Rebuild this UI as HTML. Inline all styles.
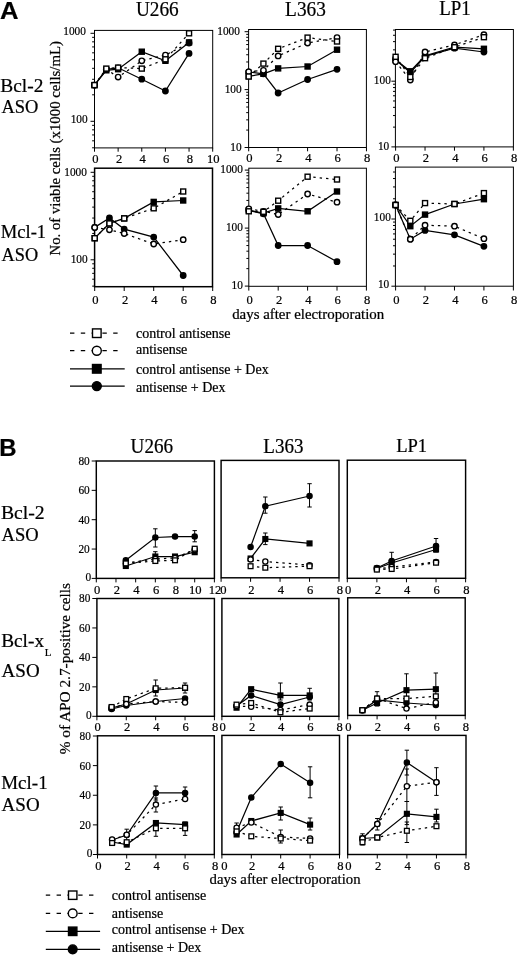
<!DOCTYPE html>
<html><head><meta charset="utf-8"><title>Figure</title>
<style>html,body{margin:0;padding:0;background:#fff;}svg{display:block;filter:grayscale(1);}</style></head>
<body><svg width="520" height="956" viewBox="0 0 520 956" font-family="'Liberation Serif', serif">
<rect x="0" y="0" width="520" height="956" fill="#fff"/>
<rect x="94.5" y="30.4" width="118.2" height="117.5" fill="none" stroke="#000" stroke-width="1"/>
<line x1="94.5" y1="147.9" x2="94.5" y2="151.7" stroke="#000" stroke-width="1"/>
<line x1="118.14" y1="147.9" x2="118.14" y2="151.7" stroke="#000" stroke-width="1"/>
<line x1="141.78" y1="147.9" x2="141.78" y2="151.7" stroke="#000" stroke-width="1"/>
<line x1="165.42" y1="147.9" x2="165.42" y2="151.7" stroke="#000" stroke-width="1"/>
<line x1="189.06" y1="147.9" x2="189.06" y2="151.7" stroke="#000" stroke-width="1"/>
<line x1="212.7" y1="147.9" x2="212.7" y2="151.7" stroke="#000" stroke-width="1"/>
<text x="92.15" y="162.79" font-size="13.4" font-family='"Liberation Serif", serif' textLength="6.3" lengthAdjust="spacingAndGlyphs" stroke="#000" stroke-width="0.22">0</text>
<text x="115.89" y="162.82" font-size="13.4" font-family='"Liberation Serif", serif' textLength="6.3" lengthAdjust="spacingAndGlyphs" stroke="#000" stroke-width="0.22">2</text>
<text x="139.43" y="162.82" font-size="13.4" font-family='"Liberation Serif", serif' textLength="6.3" lengthAdjust="spacingAndGlyphs" stroke="#000" stroke-width="0.22">4</text>
<text x="162.98" y="162.75" font-size="13.4" font-family='"Liberation Serif", serif' textLength="6.3" lengthAdjust="spacingAndGlyphs" stroke="#000" stroke-width="0.22">6</text>
<text x="186.71" y="162.79" font-size="13.4" font-family='"Liberation Serif", serif' textLength="6.3" lengthAdjust="spacingAndGlyphs" stroke="#000" stroke-width="0.22">8</text>
<text x="206.89" y="162.79" font-size="13.4" font-family='"Liberation Serif", serif' textLength="12.6" lengthAdjust="spacingAndGlyphs" stroke="#000" stroke-width="0.22">10</text>
<line x1="92.1" y1="147.79" x2="94.5" y2="147.79" stroke="#000" stroke-width="1"/>
<line x1="92.1" y1="140.82" x2="94.5" y2="140.82" stroke="#000" stroke-width="1"/>
<line x1="92.1" y1="134.93" x2="94.5" y2="134.93" stroke="#000" stroke-width="1"/>
<line x1="92.1" y1="129.83" x2="94.5" y2="129.83" stroke="#000" stroke-width="1"/>
<line x1="92.1" y1="125.33" x2="94.5" y2="125.33" stroke="#000" stroke-width="1"/>
<line x1="90.5" y1="121.3" x2="94.5" y2="121.3" stroke="#000" stroke-width="1"/>
<text x="70.63" y="123.36" font-size="13" font-family='"Liberation Serif", serif' textLength="16.96" lengthAdjust="spacingAndGlyphs" stroke="#000" stroke-width="0.22">100</text>
<line x1="92.1" y1="94.81" x2="94.5" y2="94.81" stroke="#000" stroke-width="1"/>
<line x1="92.1" y1="79.31" x2="94.5" y2="79.31" stroke="#000" stroke-width="1"/>
<line x1="92.1" y1="68.32" x2="94.5" y2="68.32" stroke="#000" stroke-width="1"/>
<line x1="92.1" y1="59.79" x2="94.5" y2="59.79" stroke="#000" stroke-width="1"/>
<line x1="92.1" y1="52.82" x2="94.5" y2="52.82" stroke="#000" stroke-width="1"/>
<line x1="92.1" y1="46.93" x2="94.5" y2="46.93" stroke="#000" stroke-width="1"/>
<line x1="92.1" y1="41.83" x2="94.5" y2="41.83" stroke="#000" stroke-width="1"/>
<line x1="92.1" y1="37.33" x2="94.5" y2="37.33" stroke="#000" stroke-width="1"/>
<line x1="90.5" y1="33.3" x2="94.5" y2="33.3" stroke="#000" stroke-width="1"/>
<text x="63.28" y="35.36" font-size="13" font-family='"Liberation Serif", serif' textLength="22.62" lengthAdjust="spacingAndGlyphs" stroke="#000" stroke-width="0.22">1000</text>
<polyline points="94.5,85.1 106.32,68.6 118.14,67.6 141.78,68.6 165.42,59.3 189.06,33.3" fill="none" stroke="#000" stroke-width="1.25" stroke-dasharray="2.4 4.0"/>
<polyline points="94.5,85.1 106.32,69.3 118.14,77.1 141.78,60.8 165.42,55.1 189.06,43" fill="none" stroke="#000" stroke-width="1.25" stroke-dasharray="2.4 4.0"/>
<polyline points="94.5,85.1 106.32,70.3 118.14,69.2 141.78,51.7 165.42,60.8 189.06,42.4" fill="none" stroke="#000" stroke-width="1.25"/>
<polyline points="94.5,85.1 106.32,69.3 118.14,67.8 141.78,79.2 165.42,91 189.06,53.4" fill="none" stroke="#000" stroke-width="1.25"/>
<circle cx="94.5" cy="85.1" r="2.7" fill="#000" stroke="#000" stroke-width="1.4"/>
<circle cx="106.32" cy="69.3" r="2.7" fill="#000" stroke="#000" stroke-width="1.4"/>
<circle cx="118.14" cy="67.8" r="2.7" fill="#000" stroke="#000" stroke-width="1.4"/>
<circle cx="141.78" cy="79.2" r="2.7" fill="#000" stroke="#000" stroke-width="1.4"/>
<circle cx="165.42" cy="91" r="2.7" fill="#000" stroke="#000" stroke-width="1.4"/>
<circle cx="189.06" cy="53.4" r="2.7" fill="#000" stroke="#000" stroke-width="1.4"/>
<circle cx="94.5" cy="85.1" r="2.7" fill="#fff" stroke="#000" stroke-width="1.4"/>
<circle cx="106.32" cy="69.3" r="2.7" fill="#fff" stroke="#000" stroke-width="1.4"/>
<circle cx="118.14" cy="77.1" r="2.7" fill="#fff" stroke="#000" stroke-width="1.4"/>
<circle cx="141.78" cy="60.8" r="2.7" fill="#fff" stroke="#000" stroke-width="1.4"/>
<circle cx="165.42" cy="55.1" r="2.7" fill="#fff" stroke="#000" stroke-width="1.4"/>
<circle cx="189.06" cy="43" r="2.7" fill="#fff" stroke="#000" stroke-width="1.4"/>
<rect x="92" y="82.6" width="5" height="5" fill="#000" stroke="#000" stroke-width="1.4"/>
<rect x="103.82" y="67.8" width="5" height="5" fill="#000" stroke="#000" stroke-width="1.4"/>
<rect x="115.64" y="66.7" width="5" height="5" fill="#000" stroke="#000" stroke-width="1.4"/>
<rect x="139.28" y="49.2" width="5" height="5" fill="#000" stroke="#000" stroke-width="1.4"/>
<rect x="162.92" y="58.3" width="5" height="5" fill="#000" stroke="#000" stroke-width="1.4"/>
<rect x="186.56" y="39.9" width="5" height="5" fill="#000" stroke="#000" stroke-width="1.4"/>
<rect x="92" y="82.6" width="5" height="5" fill="#fff" stroke="#000" stroke-width="1.4"/>
<rect x="103.82" y="66.1" width="5" height="5" fill="#fff" stroke="#000" stroke-width="1.4"/>
<rect x="115.64" y="65.1" width="5" height="5" fill="#fff" stroke="#000" stroke-width="1.4"/>
<rect x="139.28" y="66.1" width="5" height="5" fill="#fff" stroke="#000" stroke-width="1.4"/>
<rect x="162.92" y="56.8" width="5" height="5" fill="#fff" stroke="#000" stroke-width="1.4"/>
<rect x="186.56" y="30.8" width="5" height="5" fill="#fff" stroke="#000" stroke-width="1.4"/>
<rect x="248.6" y="29.5" width="117.8" height="118" fill="none" stroke="#000" stroke-width="1"/>
<line x1="248.7" y1="147.5" x2="248.7" y2="151.3" stroke="#000" stroke-width="1"/>
<line x1="278.14" y1="147.5" x2="278.14" y2="151.3" stroke="#000" stroke-width="1"/>
<line x1="307.58" y1="147.5" x2="307.58" y2="151.3" stroke="#000" stroke-width="1"/>
<line x1="337.02" y1="147.5" x2="337.02" y2="151.3" stroke="#000" stroke-width="1"/>
<line x1="366.46" y1="147.5" x2="366.46" y2="151.3" stroke="#000" stroke-width="1"/>
<text x="246.35" y="162.19" font-size="13.4" font-family='"Liberation Serif", serif' textLength="6.3" lengthAdjust="spacingAndGlyphs" stroke="#000" stroke-width="0.22">0</text>
<text x="275.89" y="162.22" font-size="13.4" font-family='"Liberation Serif", serif' textLength="6.3" lengthAdjust="spacingAndGlyphs" stroke="#000" stroke-width="0.22">2</text>
<text x="305.23" y="162.22" font-size="13.4" font-family='"Liberation Serif", serif' textLength="6.3" lengthAdjust="spacingAndGlyphs" stroke="#000" stroke-width="0.22">4</text>
<text x="334.58" y="162.16" font-size="13.4" font-family='"Liberation Serif", serif' textLength="6.3" lengthAdjust="spacingAndGlyphs" stroke="#000" stroke-width="0.22">6</text>
<text x="364.11" y="162.19" font-size="13.4" font-family='"Liberation Serif", serif' textLength="6.3" lengthAdjust="spacingAndGlyphs" stroke="#000" stroke-width="0.22">8</text>
<line x1="244.6" y1="147.5" x2="248.6" y2="147.5" stroke="#000" stroke-width="1"/>
<text x="230.29" y="150.86" font-size="13" font-family='"Liberation Serif", serif' textLength="11.31" lengthAdjust="spacingAndGlyphs" stroke="#000" stroke-width="0.22">10</text>
<line x1="246.2" y1="130.07" x2="248.6" y2="130.07" stroke="#000" stroke-width="1"/>
<line x1="246.2" y1="119.87" x2="248.6" y2="119.87" stroke="#000" stroke-width="1"/>
<line x1="246.2" y1="112.64" x2="248.6" y2="112.64" stroke="#000" stroke-width="1"/>
<line x1="246.2" y1="107.03" x2="248.6" y2="107.03" stroke="#000" stroke-width="1"/>
<line x1="246.2" y1="102.45" x2="248.6" y2="102.45" stroke="#000" stroke-width="1"/>
<line x1="246.2" y1="98.57" x2="248.6" y2="98.57" stroke="#000" stroke-width="1"/>
<line x1="246.2" y1="95.21" x2="248.6" y2="95.21" stroke="#000" stroke-width="1"/>
<line x1="246.2" y1="92.25" x2="248.6" y2="92.25" stroke="#000" stroke-width="1"/>
<line x1="244.6" y1="89.6" x2="248.6" y2="89.6" stroke="#000" stroke-width="1"/>
<text x="224.63" y="92.96" font-size="13" font-family='"Liberation Serif", serif' textLength="16.96" lengthAdjust="spacingAndGlyphs" stroke="#000" stroke-width="0.22">100</text>
<line x1="246.2" y1="72.17" x2="248.6" y2="72.17" stroke="#000" stroke-width="1"/>
<line x1="246.2" y1="61.97" x2="248.6" y2="61.97" stroke="#000" stroke-width="1"/>
<line x1="246.2" y1="54.74" x2="248.6" y2="54.74" stroke="#000" stroke-width="1"/>
<line x1="246.2" y1="49.13" x2="248.6" y2="49.13" stroke="#000" stroke-width="1"/>
<line x1="246.2" y1="44.55" x2="248.6" y2="44.55" stroke="#000" stroke-width="1"/>
<line x1="246.2" y1="40.67" x2="248.6" y2="40.67" stroke="#000" stroke-width="1"/>
<line x1="246.2" y1="37.31" x2="248.6" y2="37.31" stroke="#000" stroke-width="1"/>
<line x1="246.2" y1="34.35" x2="248.6" y2="34.35" stroke="#000" stroke-width="1"/>
<line x1="244.6" y1="31.7" x2="248.6" y2="31.7" stroke="#000" stroke-width="1"/>
<text x="217.28" y="35.06" font-size="13" font-family='"Liberation Serif", serif' textLength="22.62" lengthAdjust="spacingAndGlyphs" stroke="#000" stroke-width="0.22">1000</text>
<polyline points="248.7,76.5 263.42,63.6 278.14,48.8 307.58,37.6 337.02,41.5" fill="none" stroke="#000" stroke-width="1.25" stroke-dasharray="2.4 4.0"/>
<polyline points="248.7,71.8 263.42,70.3 278.14,55.9 307.58,43 337.02,37.6" fill="none" stroke="#000" stroke-width="1.25" stroke-dasharray="2.4 4.0"/>
<polyline points="248.7,76.3 263.42,73.8 278.14,68.4 307.58,66.5 337.02,49.7" fill="none" stroke="#000" stroke-width="1.25"/>
<polyline points="248.7,72 263.42,73.8 278.14,93 307.58,79.5 337.02,69.3" fill="none" stroke="#000" stroke-width="1.25"/>
<circle cx="248.7" cy="72" r="2.7" fill="#000" stroke="#000" stroke-width="1.4"/>
<circle cx="263.42" cy="73.8" r="2.7" fill="#000" stroke="#000" stroke-width="1.4"/>
<circle cx="278.14" cy="93" r="2.7" fill="#000" stroke="#000" stroke-width="1.4"/>
<circle cx="307.58" cy="79.5" r="2.7" fill="#000" stroke="#000" stroke-width="1.4"/>
<circle cx="337.02" cy="69.3" r="2.7" fill="#000" stroke="#000" stroke-width="1.4"/>
<rect x="246.2" y="73.8" width="5" height="5" fill="#000" stroke="#000" stroke-width="1.4"/>
<rect x="260.92" y="71.3" width="5" height="5" fill="#000" stroke="#000" stroke-width="1.4"/>
<rect x="275.64" y="65.9" width="5" height="5" fill="#000" stroke="#000" stroke-width="1.4"/>
<rect x="305.08" y="64" width="5" height="5" fill="#000" stroke="#000" stroke-width="1.4"/>
<rect x="334.52" y="47.2" width="5" height="5" fill="#000" stroke="#000" stroke-width="1.4"/>
<circle cx="248.7" cy="71.8" r="2.7" fill="#fff" stroke="#000" stroke-width="1.4"/>
<circle cx="263.42" cy="70.3" r="2.7" fill="#fff" stroke="#000" stroke-width="1.4"/>
<circle cx="278.14" cy="55.9" r="2.7" fill="#fff" stroke="#000" stroke-width="1.4"/>
<circle cx="307.58" cy="43" r="2.7" fill="#fff" stroke="#000" stroke-width="1.4"/>
<circle cx="337.02" cy="37.6" r="2.7" fill="#fff" stroke="#000" stroke-width="1.4"/>
<rect x="246.2" y="74" width="5" height="5" fill="#fff" stroke="#000" stroke-width="1.4"/>
<rect x="260.92" y="61.1" width="5" height="5" fill="#fff" stroke="#000" stroke-width="1.4"/>
<rect x="275.64" y="46.3" width="5" height="5" fill="#fff" stroke="#000" stroke-width="1.4"/>
<rect x="305.08" y="35.1" width="5" height="5" fill="#fff" stroke="#000" stroke-width="1.4"/>
<rect x="334.52" y="39" width="5" height="5" fill="#fff" stroke="#000" stroke-width="1.4"/>
<rect x="395.4" y="29.5" width="118" height="117.4" fill="none" stroke="#000" stroke-width="1"/>
<line x1="395.6" y1="146.9" x2="395.6" y2="150.7" stroke="#000" stroke-width="1"/>
<line x1="425.04" y1="146.9" x2="425.04" y2="150.7" stroke="#000" stroke-width="1"/>
<line x1="454.48" y1="146.9" x2="454.48" y2="150.7" stroke="#000" stroke-width="1"/>
<line x1="483.92" y1="146.9" x2="483.92" y2="150.7" stroke="#000" stroke-width="1"/>
<line x1="513.36" y1="146.9" x2="513.36" y2="150.7" stroke="#000" stroke-width="1"/>
<text x="393.25" y="161.99" font-size="13.4" font-family='"Liberation Serif", serif' textLength="6.3" lengthAdjust="spacingAndGlyphs" stroke="#000" stroke-width="0.22">0</text>
<text x="422.79" y="162.02" font-size="13.4" font-family='"Liberation Serif", serif' textLength="6.3" lengthAdjust="spacingAndGlyphs" stroke="#000" stroke-width="0.22">2</text>
<text x="452.13" y="162.02" font-size="13.4" font-family='"Liberation Serif", serif' textLength="6.3" lengthAdjust="spacingAndGlyphs" stroke="#000" stroke-width="0.22">4</text>
<text x="481.48" y="161.95" font-size="13.4" font-family='"Liberation Serif", serif' textLength="6.3" lengthAdjust="spacingAndGlyphs" stroke="#000" stroke-width="0.22">6</text>
<text x="511.01" y="161.99" font-size="13.4" font-family='"Liberation Serif", serif' textLength="6.3" lengthAdjust="spacingAndGlyphs" stroke="#000" stroke-width="0.22">8</text>
<line x1="391.4" y1="146.9" x2="395.4" y2="146.9" stroke="#000" stroke-width="1"/>
<text x="377.89" y="149.96" font-size="13" font-family='"Liberation Serif", serif' textLength="11.31" lengthAdjust="spacingAndGlyphs" stroke="#000" stroke-width="0.22">10</text>
<line x1="393" y1="127.12" x2="395.4" y2="127.12" stroke="#000" stroke-width="1"/>
<line x1="393" y1="115.55" x2="395.4" y2="115.55" stroke="#000" stroke-width="1"/>
<line x1="393" y1="107.34" x2="395.4" y2="107.34" stroke="#000" stroke-width="1"/>
<line x1="393" y1="100.98" x2="395.4" y2="100.98" stroke="#000" stroke-width="1"/>
<line x1="393" y1="95.78" x2="395.4" y2="95.78" stroke="#000" stroke-width="1"/>
<line x1="393" y1="91.38" x2="395.4" y2="91.38" stroke="#000" stroke-width="1"/>
<line x1="393" y1="87.57" x2="395.4" y2="87.57" stroke="#000" stroke-width="1"/>
<line x1="393" y1="84.21" x2="395.4" y2="84.21" stroke="#000" stroke-width="1"/>
<line x1="391.4" y1="81.2" x2="395.4" y2="81.2" stroke="#000" stroke-width="1"/>
<text x="373.83" y="84.26" font-size="13" font-family='"Liberation Serif", serif' textLength="16.96" lengthAdjust="spacingAndGlyphs" stroke="#000" stroke-width="0.22">100</text>
<line x1="393" y1="61.42" x2="395.4" y2="61.42" stroke="#000" stroke-width="1"/>
<line x1="393" y1="49.85" x2="395.4" y2="49.85" stroke="#000" stroke-width="1"/>
<line x1="393" y1="41.64" x2="395.4" y2="41.64" stroke="#000" stroke-width="1"/>
<line x1="393" y1="35.28" x2="395.4" y2="35.28" stroke="#000" stroke-width="1"/>
<line x1="393" y1="30.08" x2="395.4" y2="30.08" stroke="#000" stroke-width="1"/>
<polyline points="395.6,56.8 410.32,77 425.04,58.2 454.48,47.2 483.92,37.2" fill="none" stroke="#000" stroke-width="1.25" stroke-dasharray="2.4 4.0"/>
<polyline points="395.6,61.7 410.32,80 425.04,52 454.48,44.9 483.92,34.7" fill="none" stroke="#000" stroke-width="1.25" stroke-dasharray="2.4 4.0"/>
<polyline points="395.6,59.7 410.32,71.3 425.04,55.9 454.48,47.2 483.92,48.8" fill="none" stroke="#000" stroke-width="1.25"/>
<polyline points="395.6,59.7 410.32,72.6 425.04,56.5 454.48,48.2 483.92,52" fill="none" stroke="#000" stroke-width="1.25"/>
<circle cx="395.6" cy="59.7" r="2.7" fill="#000" stroke="#000" stroke-width="1.4"/>
<circle cx="410.32" cy="72.6" r="2.7" fill="#000" stroke="#000" stroke-width="1.4"/>
<circle cx="425.04" cy="56.5" r="2.7" fill="#000" stroke="#000" stroke-width="1.4"/>
<circle cx="454.48" cy="48.2" r="2.7" fill="#000" stroke="#000" stroke-width="1.4"/>
<circle cx="483.92" cy="52" r="2.7" fill="#000" stroke="#000" stroke-width="1.4"/>
<rect x="393.1" y="57.2" width="5" height="5" fill="#000" stroke="#000" stroke-width="1.4"/>
<rect x="407.82" y="68.8" width="5" height="5" fill="#000" stroke="#000" stroke-width="1.4"/>
<rect x="422.54" y="53.4" width="5" height="5" fill="#000" stroke="#000" stroke-width="1.4"/>
<rect x="451.98" y="44.7" width="5" height="5" fill="#000" stroke="#000" stroke-width="1.4"/>
<rect x="481.42" y="46.3" width="5" height="5" fill="#000" stroke="#000" stroke-width="1.4"/>
<circle cx="395.6" cy="61.7" r="2.7" fill="#fff" stroke="#000" stroke-width="1.4"/>
<circle cx="410.32" cy="80" r="2.7" fill="#fff" stroke="#000" stroke-width="1.4"/>
<circle cx="425.04" cy="52" r="2.7" fill="#fff" stroke="#000" stroke-width="1.4"/>
<circle cx="454.48" cy="44.9" r="2.7" fill="#fff" stroke="#000" stroke-width="1.4"/>
<circle cx="483.92" cy="34.7" r="2.7" fill="#fff" stroke="#000" stroke-width="1.4"/>
<rect x="393.1" y="54.3" width="5" height="5" fill="#fff" stroke="#000" stroke-width="1.4"/>
<rect x="407.82" y="74.5" width="5" height="5" fill="#fff" stroke="#000" stroke-width="1.4"/>
<rect x="422.54" y="55.7" width="5" height="5" fill="#fff" stroke="#000" stroke-width="1.4"/>
<rect x="451.98" y="44.7" width="5" height="5" fill="#fff" stroke="#000" stroke-width="1.4"/>
<rect x="481.42" y="34.7" width="5" height="5" fill="#fff" stroke="#000" stroke-width="1.4"/>
<rect x="94.6" y="168.2" width="117.9" height="118.5" fill="none" stroke="#000" stroke-width="1.5"/>
<line x1="94.7" y1="286.7" x2="94.7" y2="291" stroke="#000" stroke-width="1"/>
<line x1="124.2" y1="286.7" x2="124.2" y2="291" stroke="#000" stroke-width="1"/>
<line x1="153.7" y1="286.7" x2="153.7" y2="291" stroke="#000" stroke-width="1"/>
<line x1="183.2" y1="286.7" x2="183.2" y2="291" stroke="#000" stroke-width="1"/>
<line x1="212.7" y1="286.7" x2="212.7" y2="291" stroke="#000" stroke-width="1"/>
<text x="92.35" y="303.99" font-size="13.4" font-family='"Liberation Serif", serif' textLength="6.3" lengthAdjust="spacingAndGlyphs" stroke="#000" stroke-width="0.22">0</text>
<text x="121.95" y="304.02" font-size="13.4" font-family='"Liberation Serif", serif' textLength="6.3" lengthAdjust="spacingAndGlyphs" stroke="#000" stroke-width="0.22">2</text>
<text x="151.35" y="304.02" font-size="13.4" font-family='"Liberation Serif", serif' textLength="6.3" lengthAdjust="spacingAndGlyphs" stroke="#000" stroke-width="0.22">4</text>
<text x="180.76" y="303.96" font-size="13.4" font-family='"Liberation Serif", serif' textLength="6.3" lengthAdjust="spacingAndGlyphs" stroke="#000" stroke-width="0.22">6</text>
<text x="210.35" y="303.99" font-size="13.4" font-family='"Liberation Serif", serif' textLength="6.3" lengthAdjust="spacingAndGlyphs" stroke="#000" stroke-width="0.22">8</text>
<line x1="92.2" y1="286.14" x2="94.6" y2="286.14" stroke="#000" stroke-width="1"/>
<line x1="92.2" y1="279.21" x2="94.6" y2="279.21" stroke="#000" stroke-width="1"/>
<line x1="92.2" y1="273.35" x2="94.6" y2="273.35" stroke="#000" stroke-width="1"/>
<line x1="92.2" y1="268.28" x2="94.6" y2="268.28" stroke="#000" stroke-width="1"/>
<line x1="92.2" y1="263.8" x2="94.6" y2="263.8" stroke="#000" stroke-width="1"/>
<line x1="90.6" y1="259.8" x2="94.6" y2="259.8" stroke="#000" stroke-width="1"/>
<text x="70.73" y="263.16" font-size="13" font-family='"Liberation Serif", serif' textLength="16.96" lengthAdjust="spacingAndGlyphs" stroke="#000" stroke-width="0.22">100</text>
<line x1="92.2" y1="233.46" x2="94.6" y2="233.46" stroke="#000" stroke-width="1"/>
<line x1="92.2" y1="218.05" x2="94.6" y2="218.05" stroke="#000" stroke-width="1"/>
<line x1="92.2" y1="207.12" x2="94.6" y2="207.12" stroke="#000" stroke-width="1"/>
<line x1="92.2" y1="198.64" x2="94.6" y2="198.64" stroke="#000" stroke-width="1"/>
<line x1="92.2" y1="191.71" x2="94.6" y2="191.71" stroke="#000" stroke-width="1"/>
<line x1="92.2" y1="185.85" x2="94.6" y2="185.85" stroke="#000" stroke-width="1"/>
<line x1="92.2" y1="180.78" x2="94.6" y2="180.78" stroke="#000" stroke-width="1"/>
<line x1="92.2" y1="176.3" x2="94.6" y2="176.3" stroke="#000" stroke-width="1"/>
<line x1="90.6" y1="172.3" x2="94.6" y2="172.3" stroke="#000" stroke-width="1"/>
<text x="64.28" y="175.66" font-size="13" font-family='"Liberation Serif", serif' textLength="22.62" lengthAdjust="spacingAndGlyphs" stroke="#000" stroke-width="0.22">1000</text>
<polyline points="94.7,238.2 109.45,223.4 124.2,218.4 153.7,208.3 183.2,191.5" fill="none" stroke="#000" stroke-width="1.25" stroke-dasharray="2.4 4.0"/>
<polyline points="94.7,227.4 109.45,229.8 124.2,233.5 153.7,244 183.2,239.7" fill="none" stroke="#000" stroke-width="1.25" stroke-dasharray="2.4 4.0"/>
<polyline points="94.7,238.2 109.45,223.4 124.2,218.4 153.7,201.9 183.2,200.5" fill="none" stroke="#000" stroke-width="1.25"/>
<polyline points="94.7,227.4 109.45,218 124.2,229.1 153.7,237.1 183.2,275.5" fill="none" stroke="#000" stroke-width="1.25"/>
<rect x="92.2" y="235.7" width="5" height="5" fill="#000" stroke="#000" stroke-width="1.4"/>
<rect x="106.95" y="220.9" width="5" height="5" fill="#000" stroke="#000" stroke-width="1.4"/>
<rect x="121.7" y="215.9" width="5" height="5" fill="#000" stroke="#000" stroke-width="1.4"/>
<rect x="151.2" y="199.4" width="5" height="5" fill="#000" stroke="#000" stroke-width="1.4"/>
<rect x="180.7" y="198" width="5" height="5" fill="#000" stroke="#000" stroke-width="1.4"/>
<circle cx="94.7" cy="227.4" r="2.7" fill="#000" stroke="#000" stroke-width="1.4"/>
<circle cx="109.45" cy="218" r="2.7" fill="#000" stroke="#000" stroke-width="1.4"/>
<circle cx="124.2" cy="229.1" r="2.7" fill="#000" stroke="#000" stroke-width="1.4"/>
<circle cx="153.7" cy="237.1" r="2.7" fill="#000" stroke="#000" stroke-width="1.4"/>
<circle cx="183.2" cy="275.5" r="2.7" fill="#000" stroke="#000" stroke-width="1.4"/>
<circle cx="94.7" cy="227.4" r="2.7" fill="#fff" stroke="#000" stroke-width="1.4"/>
<circle cx="109.45" cy="229.8" r="2.7" fill="#fff" stroke="#000" stroke-width="1.4"/>
<circle cx="124.2" cy="233.5" r="2.7" fill="#fff" stroke="#000" stroke-width="1.4"/>
<circle cx="153.7" cy="244" r="2.7" fill="#fff" stroke="#000" stroke-width="1.4"/>
<circle cx="183.2" cy="239.7" r="2.7" fill="#fff" stroke="#000" stroke-width="1.4"/>
<rect x="92.2" y="235.7" width="5" height="5" fill="#fff" stroke="#000" stroke-width="1.4"/>
<rect x="106.95" y="220.9" width="5" height="5" fill="#fff" stroke="#000" stroke-width="1.4"/>
<rect x="121.7" y="215.9" width="5" height="5" fill="#fff" stroke="#000" stroke-width="1.4"/>
<rect x="151.2" y="205.8" width="5" height="5" fill="#fff" stroke="#000" stroke-width="1.4"/>
<rect x="180.7" y="189" width="5" height="5" fill="#fff" stroke="#000" stroke-width="1.4"/>
<rect x="248.8" y="168.2" width="117.6" height="118.1" fill="none" stroke="#000" stroke-width="1"/>
<line x1="248.8" y1="286.3" x2="248.8" y2="290.6" stroke="#000" stroke-width="1"/>
<line x1="278.2" y1="286.3" x2="278.2" y2="290.6" stroke="#000" stroke-width="1"/>
<line x1="307.6" y1="286.3" x2="307.6" y2="290.6" stroke="#000" stroke-width="1"/>
<line x1="337" y1="286.3" x2="337" y2="290.6" stroke="#000" stroke-width="1"/>
<line x1="366.4" y1="286.3" x2="366.4" y2="290.6" stroke="#000" stroke-width="1"/>
<text x="246.45" y="303.99" font-size="13.4" font-family='"Liberation Serif", serif' textLength="6.3" lengthAdjust="spacingAndGlyphs" stroke="#000" stroke-width="0.22">0</text>
<text x="275.95" y="304.02" font-size="13.4" font-family='"Liberation Serif", serif' textLength="6.3" lengthAdjust="spacingAndGlyphs" stroke="#000" stroke-width="0.22">2</text>
<text x="305.25" y="304.02" font-size="13.4" font-family='"Liberation Serif", serif' textLength="6.3" lengthAdjust="spacingAndGlyphs" stroke="#000" stroke-width="0.22">4</text>
<text x="334.56" y="303.96" font-size="13.4" font-family='"Liberation Serif", serif' textLength="6.3" lengthAdjust="spacingAndGlyphs" stroke="#000" stroke-width="0.22">6</text>
<text x="364.05" y="303.99" font-size="13.4" font-family='"Liberation Serif", serif' textLength="6.3" lengthAdjust="spacingAndGlyphs" stroke="#000" stroke-width="0.22">8</text>
<line x1="244.8" y1="286.1" x2="248.8" y2="286.1" stroke="#000" stroke-width="1"/>
<text x="231.59" y="289.16" font-size="13" font-family='"Liberation Serif", serif' textLength="11.31" lengthAdjust="spacingAndGlyphs" stroke="#000" stroke-width="0.22">10</text>
<line x1="246.4" y1="268.64" x2="248.8" y2="268.64" stroke="#000" stroke-width="1"/>
<line x1="246.4" y1="258.43" x2="248.8" y2="258.43" stroke="#000" stroke-width="1"/>
<line x1="246.4" y1="251.18" x2="248.8" y2="251.18" stroke="#000" stroke-width="1"/>
<line x1="246.4" y1="245.56" x2="248.8" y2="245.56" stroke="#000" stroke-width="1"/>
<line x1="246.4" y1="240.97" x2="248.8" y2="240.97" stroke="#000" stroke-width="1"/>
<line x1="246.4" y1="237.08" x2="248.8" y2="237.08" stroke="#000" stroke-width="1"/>
<line x1="246.4" y1="233.72" x2="248.8" y2="233.72" stroke="#000" stroke-width="1"/>
<line x1="246.4" y1="230.75" x2="248.8" y2="230.75" stroke="#000" stroke-width="1"/>
<line x1="244.8" y1="228.1" x2="248.8" y2="228.1" stroke="#000" stroke-width="1"/>
<text x="225.93" y="231.16" font-size="13" font-family='"Liberation Serif", serif' textLength="16.96" lengthAdjust="spacingAndGlyphs" stroke="#000" stroke-width="0.22">100</text>
<line x1="246.4" y1="210.64" x2="248.8" y2="210.64" stroke="#000" stroke-width="1"/>
<line x1="246.4" y1="200.43" x2="248.8" y2="200.43" stroke="#000" stroke-width="1"/>
<line x1="246.4" y1="193.18" x2="248.8" y2="193.18" stroke="#000" stroke-width="1"/>
<line x1="246.4" y1="187.56" x2="248.8" y2="187.56" stroke="#000" stroke-width="1"/>
<line x1="246.4" y1="182.97" x2="248.8" y2="182.97" stroke="#000" stroke-width="1"/>
<line x1="246.4" y1="179.08" x2="248.8" y2="179.08" stroke="#000" stroke-width="1"/>
<line x1="246.4" y1="175.72" x2="248.8" y2="175.72" stroke="#000" stroke-width="1"/>
<line x1="246.4" y1="172.75" x2="248.8" y2="172.75" stroke="#000" stroke-width="1"/>
<line x1="244.8" y1="170.1" x2="248.8" y2="170.1" stroke="#000" stroke-width="1"/>
<text x="220.28" y="173.16" font-size="13" font-family='"Liberation Serif", serif' textLength="22.62" lengthAdjust="spacingAndGlyphs" stroke="#000" stroke-width="0.22">1000</text>
<polyline points="248.8,211.3 263.5,211.8 278.2,200.7 307.6,176.7 337,179.5" fill="none" stroke="#000" stroke-width="1.25" stroke-dasharray="2.4 4.0"/>
<polyline points="248.8,208.8 263.5,211.3 278.2,214.5 307.6,194 337,202.2" fill="none" stroke="#000" stroke-width="1.25" stroke-dasharray="2.4 4.0"/>
<polyline points="248.8,210.3 263.5,213.2 278.2,208.4 307.6,211.3 337,191.5" fill="none" stroke="#000" stroke-width="1.25"/>
<polyline points="248.8,210.3 263.5,213.8 278.2,245.5 307.6,245.5 337,261.7" fill="none" stroke="#000" stroke-width="1.25"/>
<circle cx="248.8" cy="210.3" r="2.7" fill="#000" stroke="#000" stroke-width="1.4"/>
<circle cx="263.5" cy="213.8" r="2.7" fill="#000" stroke="#000" stroke-width="1.4"/>
<circle cx="278.2" cy="245.5" r="2.7" fill="#000" stroke="#000" stroke-width="1.4"/>
<circle cx="307.6" cy="245.5" r="2.7" fill="#000" stroke="#000" stroke-width="1.4"/>
<circle cx="337" cy="261.7" r="2.7" fill="#000" stroke="#000" stroke-width="1.4"/>
<rect x="246.3" y="207.8" width="5" height="5" fill="#000" stroke="#000" stroke-width="1.4"/>
<rect x="261" y="210.7" width="5" height="5" fill="#000" stroke="#000" stroke-width="1.4"/>
<rect x="275.7" y="205.9" width="5" height="5" fill="#000" stroke="#000" stroke-width="1.4"/>
<rect x="305.1" y="208.8" width="5" height="5" fill="#000" stroke="#000" stroke-width="1.4"/>
<rect x="334.5" y="189" width="5" height="5" fill="#000" stroke="#000" stroke-width="1.4"/>
<circle cx="248.8" cy="208.8" r="2.7" fill="#fff" stroke="#000" stroke-width="1.4"/>
<circle cx="263.5" cy="211.3" r="2.7" fill="#fff" stroke="#000" stroke-width="1.4"/>
<circle cx="278.2" cy="214.5" r="2.7" fill="#fff" stroke="#000" stroke-width="1.4"/>
<circle cx="307.6" cy="194" r="2.7" fill="#fff" stroke="#000" stroke-width="1.4"/>
<circle cx="337" cy="202.2" r="2.7" fill="#fff" stroke="#000" stroke-width="1.4"/>
<rect x="246.3" y="208.8" width="5" height="5" fill="#fff" stroke="#000" stroke-width="1.4"/>
<rect x="261" y="209.3" width="5" height="5" fill="#fff" stroke="#000" stroke-width="1.4"/>
<rect x="275.7" y="198.2" width="5" height="5" fill="#fff" stroke="#000" stroke-width="1.4"/>
<rect x="305.1" y="174.2" width="5" height="5" fill="#fff" stroke="#000" stroke-width="1.4"/>
<rect x="334.5" y="177" width="5" height="5" fill="#fff" stroke="#000" stroke-width="1.4"/>
<rect x="395.4" y="167.1" width="118" height="119.1" fill="none" stroke="#000" stroke-width="1"/>
<line x1="395.6" y1="286.2" x2="395.6" y2="290.5" stroke="#000" stroke-width="1"/>
<line x1="425.04" y1="286.2" x2="425.04" y2="290.5" stroke="#000" stroke-width="1"/>
<line x1="454.48" y1="286.2" x2="454.48" y2="290.5" stroke="#000" stroke-width="1"/>
<line x1="483.92" y1="286.2" x2="483.92" y2="290.5" stroke="#000" stroke-width="1"/>
<line x1="513.36" y1="286.2" x2="513.36" y2="290.5" stroke="#000" stroke-width="1"/>
<text x="393.25" y="303.99" font-size="13.4" font-family='"Liberation Serif", serif' textLength="6.3" lengthAdjust="spacingAndGlyphs" stroke="#000" stroke-width="0.22">0</text>
<text x="422.79" y="304.02" font-size="13.4" font-family='"Liberation Serif", serif' textLength="6.3" lengthAdjust="spacingAndGlyphs" stroke="#000" stroke-width="0.22">2</text>
<text x="452.13" y="304.02" font-size="13.4" font-family='"Liberation Serif", serif' textLength="6.3" lengthAdjust="spacingAndGlyphs" stroke="#000" stroke-width="0.22">4</text>
<text x="481.48" y="303.96" font-size="13.4" font-family='"Liberation Serif", serif' textLength="6.3" lengthAdjust="spacingAndGlyphs" stroke="#000" stroke-width="0.22">6</text>
<text x="511.01" y="303.99" font-size="13.4" font-family='"Liberation Serif", serif' textLength="6.3" lengthAdjust="spacingAndGlyphs" stroke="#000" stroke-width="0.22">8</text>
<line x1="391.4" y1="286.2" x2="395.4" y2="286.2" stroke="#000" stroke-width="1"/>
<text x="377.89" y="288.46" font-size="13" font-family='"Liberation Serif", serif' textLength="11.31" lengthAdjust="spacingAndGlyphs" stroke="#000" stroke-width="0.22">10</text>
<line x1="393" y1="265.97" x2="395.4" y2="265.97" stroke="#000" stroke-width="1"/>
<line x1="393" y1="254.14" x2="395.4" y2="254.14" stroke="#000" stroke-width="1"/>
<line x1="393" y1="245.74" x2="395.4" y2="245.74" stroke="#000" stroke-width="1"/>
<line x1="393" y1="239.23" x2="395.4" y2="239.23" stroke="#000" stroke-width="1"/>
<line x1="393" y1="233.91" x2="395.4" y2="233.91" stroke="#000" stroke-width="1"/>
<line x1="393" y1="229.41" x2="395.4" y2="229.41" stroke="#000" stroke-width="1"/>
<line x1="393" y1="225.51" x2="395.4" y2="225.51" stroke="#000" stroke-width="1"/>
<line x1="393" y1="222.07" x2="395.4" y2="222.07" stroke="#000" stroke-width="1"/>
<line x1="391.4" y1="219" x2="395.4" y2="219" stroke="#000" stroke-width="1"/>
<text x="373.83" y="221.26" font-size="13" font-family='"Liberation Serif", serif' textLength="16.96" lengthAdjust="spacingAndGlyphs" stroke="#000" stroke-width="0.22">100</text>
<line x1="393" y1="198.77" x2="395.4" y2="198.77" stroke="#000" stroke-width="1"/>
<line x1="393" y1="186.94" x2="395.4" y2="186.94" stroke="#000" stroke-width="1"/>
<line x1="393" y1="178.54" x2="395.4" y2="178.54" stroke="#000" stroke-width="1"/>
<line x1="393" y1="172.03" x2="395.4" y2="172.03" stroke="#000" stroke-width="1"/>
<polyline points="395.6,205 410.32,220.8 425.04,203.1 454.48,204 483.92,193.1" fill="none" stroke="#000" stroke-width="1.25" stroke-dasharray="2.4 4.0"/>
<polyline points="395.6,205 410.32,239.2 425.04,225.2 454.48,226.2 483.92,238.7" fill="none" stroke="#000" stroke-width="1.25" stroke-dasharray="2.4 4.0"/>
<polyline points="395.6,205 410.32,226.2 425.04,214.6 454.48,204 483.92,199.2" fill="none" stroke="#000" stroke-width="1.25"/>
<polyline points="395.6,205 410.32,239.2 425.04,230.4 454.48,234.8 483.92,246.3" fill="none" stroke="#000" stroke-width="1.25"/>
<circle cx="395.6" cy="205" r="2.7" fill="#000" stroke="#000" stroke-width="1.4"/>
<circle cx="410.32" cy="239.2" r="2.7" fill="#000" stroke="#000" stroke-width="1.4"/>
<circle cx="425.04" cy="230.4" r="2.7" fill="#000" stroke="#000" stroke-width="1.4"/>
<circle cx="454.48" cy="234.8" r="2.7" fill="#000" stroke="#000" stroke-width="1.4"/>
<circle cx="483.92" cy="246.3" r="2.7" fill="#000" stroke="#000" stroke-width="1.4"/>
<rect x="393.1" y="202.5" width="5" height="5" fill="#000" stroke="#000" stroke-width="1.4"/>
<rect x="407.82" y="223.7" width="5" height="5" fill="#000" stroke="#000" stroke-width="1.4"/>
<rect x="422.54" y="212.1" width="5" height="5" fill="#000" stroke="#000" stroke-width="1.4"/>
<rect x="451.98" y="201.5" width="5" height="5" fill="#000" stroke="#000" stroke-width="1.4"/>
<rect x="481.42" y="196.7" width="5" height="5" fill="#000" stroke="#000" stroke-width="1.4"/>
<circle cx="395.6" cy="205" r="2.7" fill="#fff" stroke="#000" stroke-width="1.4"/>
<circle cx="410.32" cy="239.2" r="2.7" fill="#fff" stroke="#000" stroke-width="1.4"/>
<circle cx="425.04" cy="225.2" r="2.7" fill="#fff" stroke="#000" stroke-width="1.4"/>
<circle cx="454.48" cy="226.2" r="2.7" fill="#fff" stroke="#000" stroke-width="1.4"/>
<circle cx="483.92" cy="238.7" r="2.7" fill="#fff" stroke="#000" stroke-width="1.4"/>
<rect x="393.1" y="202.5" width="5" height="5" fill="#fff" stroke="#000" stroke-width="1.4"/>
<rect x="407.82" y="218.3" width="5" height="5" fill="#fff" stroke="#000" stroke-width="1.4"/>
<rect x="422.54" y="200.6" width="5" height="5" fill="#fff" stroke="#000" stroke-width="1.4"/>
<rect x="451.98" y="201.5" width="5" height="5" fill="#fff" stroke="#000" stroke-width="1.4"/>
<rect x="481.42" y="190.6" width="5" height="5" fill="#fff" stroke="#000" stroke-width="1.4"/>
<rect x="96.3" y="461" width="118.1" height="117.4" fill="none" stroke="#000" stroke-width="1.45"/>
<line x1="96.3" y1="578.4" x2="96.3" y2="582.4" stroke="#000" stroke-width="1"/>
<line x1="115.98" y1="578.4" x2="115.98" y2="582.4" stroke="#000" stroke-width="1"/>
<line x1="135.66" y1="578.4" x2="135.66" y2="582.4" stroke="#000" stroke-width="1"/>
<line x1="155.34" y1="578.4" x2="155.34" y2="582.4" stroke="#000" stroke-width="1"/>
<line x1="175.02" y1="578.4" x2="175.02" y2="582.4" stroke="#000" stroke-width="1"/>
<line x1="194.7" y1="578.4" x2="194.7" y2="582.4" stroke="#000" stroke-width="1"/>
<line x1="214.38" y1="578.4" x2="214.38" y2="582.4" stroke="#000" stroke-width="1"/>
<text x="93.95" y="594.19" font-size="13.4" font-family='"Liberation Serif", serif' textLength="6.3" lengthAdjust="spacingAndGlyphs" stroke="#000" stroke-width="0.22">0</text>
<text x="113.73" y="594.22" font-size="13.4" font-family='"Liberation Serif", serif' textLength="6.3" lengthAdjust="spacingAndGlyphs" stroke="#000" stroke-width="0.22">2</text>
<text x="133.31" y="594.22" font-size="13.4" font-family='"Liberation Serif", serif' textLength="6.3" lengthAdjust="spacingAndGlyphs" stroke="#000" stroke-width="0.22">4</text>
<text x="152.9" y="594.15" font-size="13.4" font-family='"Liberation Serif", serif' textLength="6.3" lengthAdjust="spacingAndGlyphs" stroke="#000" stroke-width="0.22">6</text>
<text x="172.67" y="594.19" font-size="13.4" font-family='"Liberation Serif", serif' textLength="6.3" lengthAdjust="spacingAndGlyphs" stroke="#000" stroke-width="0.22">8</text>
<text x="188.89" y="594.19" font-size="13.4" font-family='"Liberation Serif", serif' textLength="12.6" lengthAdjust="spacingAndGlyphs" stroke="#000" stroke-width="0.22">10</text>
<text x="208.69" y="594.22" font-size="13.4" font-family='"Liberation Serif", serif' textLength="12.6" lengthAdjust="spacingAndGlyphs" stroke="#000" stroke-width="0.22">12</text>
<line x1="91.7" y1="578.4" x2="96.3" y2="578.4" stroke="#000" stroke-width="1"/>
<text x="85.44" y="581.06" font-size="13" font-family='"Liberation Serif", serif' textLength="5.66" lengthAdjust="spacingAndGlyphs" stroke="#000" stroke-width="0.22">0</text>
<line x1="91.7" y1="549.05" x2="96.3" y2="549.05" stroke="#000" stroke-width="1"/>
<text x="78.39" y="553.01" font-size="13" font-family='"Liberation Serif", serif' textLength="11.31" lengthAdjust="spacingAndGlyphs" stroke="#000" stroke-width="0.22">20</text>
<line x1="91.7" y1="519.7" x2="96.3" y2="519.7" stroke="#000" stroke-width="1"/>
<text x="78.39" y="523.66" font-size="13" font-family='"Liberation Serif", serif' textLength="11.31" lengthAdjust="spacingAndGlyphs" stroke="#000" stroke-width="0.22">40</text>
<line x1="91.7" y1="490.35" x2="96.3" y2="490.35" stroke="#000" stroke-width="1"/>
<text x="78.39" y="494.31" font-size="13" font-family='"Liberation Serif", serif' textLength="11.31" lengthAdjust="spacingAndGlyphs" stroke="#000" stroke-width="0.22">60</text>
<line x1="91.7" y1="461" x2="96.3" y2="461" stroke="#000" stroke-width="1"/>
<text x="78.39" y="464.96" font-size="13" font-family='"Liberation Serif", serif' textLength="11.31" lengthAdjust="spacingAndGlyphs" stroke="#000" stroke-width="0.22">80</text>
<polyline points="125.82,563.4 155.34,561 175.02,560.3 194.7,548.7" fill="none" stroke="#000" stroke-width="1.25" stroke-dasharray="2.4 4.0"/>
<polyline points="125.82,563 155.34,559 175.02,558 194.7,549.5" fill="none" stroke="#000" stroke-width="1.25" stroke-dasharray="2.4 4.0"/>
<polyline points="125.82,566 155.34,556.5 175.02,556.5 194.7,552.2" fill="none" stroke="#000" stroke-width="1.25"/>
<polyline points="125.82,560.3 155.34,537.5 175.02,536.6 194.7,536.6" fill="none" stroke="#000" stroke-width="1.25"/>
<line x1="155.34" y1="528.8" x2="155.34" y2="547" stroke="#000" stroke-width="1"/>
<line x1="153.14" y1="528.8" x2="157.54" y2="528.8" stroke="#000" stroke-width="1"/>
<line x1="153.14" y1="547" x2="157.54" y2="547" stroke="#000" stroke-width="1"/>
<line x1="194.7" y1="530.6" x2="194.7" y2="541.8" stroke="#000" stroke-width="1"/>
<line x1="192.5" y1="530.6" x2="196.9" y2="530.6" stroke="#000" stroke-width="1"/>
<line x1="192.5" y1="541.8" x2="196.9" y2="541.8" stroke="#000" stroke-width="1"/>
<line x1="155.34" y1="551.7" x2="155.34" y2="560" stroke="#000" stroke-width="1"/>
<line x1="153.14" y1="551.7" x2="157.54" y2="551.7" stroke="#000" stroke-width="1"/>
<line x1="153.14" y1="560" x2="157.54" y2="560" stroke="#000" stroke-width="1"/>
<circle cx="125.82" cy="560.3" r="2.6" fill="#000" stroke="#000" stroke-width="1.3"/>
<circle cx="155.34" cy="537.5" r="2.6" fill="#000" stroke="#000" stroke-width="1.3"/>
<circle cx="175.02" cy="536.6" r="2.6" fill="#000" stroke="#000" stroke-width="1.3"/>
<circle cx="194.7" cy="536.6" r="2.6" fill="#000" stroke="#000" stroke-width="1.3"/>
<rect x="123.42" y="563.6" width="4.8" height="4.8" fill="#000" stroke="#000" stroke-width="1.3"/>
<rect x="152.94" y="554.1" width="4.8" height="4.8" fill="#000" stroke="#000" stroke-width="1.3"/>
<rect x="172.62" y="554.1" width="4.8" height="4.8" fill="#000" stroke="#000" stroke-width="1.3"/>
<rect x="192.3" y="549.8" width="4.8" height="4.8" fill="#000" stroke="#000" stroke-width="1.3"/>
<circle cx="125.82" cy="563" r="2.6" fill="#fff" stroke="#000" stroke-width="1.3"/>
<circle cx="155.34" cy="559" r="2.6" fill="#fff" stroke="#000" stroke-width="1.3"/>
<circle cx="175.02" cy="558" r="2.6" fill="#fff" stroke="#000" stroke-width="1.3"/>
<circle cx="194.7" cy="549.5" r="2.6" fill="#fff" stroke="#000" stroke-width="1.3"/>
<rect x="123.42" y="561" width="4.8" height="4.8" fill="#fff" stroke="#000" stroke-width="1.3"/>
<rect x="152.94" y="558.6" width="4.8" height="4.8" fill="#fff" stroke="#000" stroke-width="1.3"/>
<rect x="172.62" y="557.9" width="4.8" height="4.8" fill="#fff" stroke="#000" stroke-width="1.3"/>
<rect x="192.3" y="546.3" width="4.8" height="4.8" fill="#fff" stroke="#000" stroke-width="1.3"/>
<rect x="221.1" y="460.4" width="117.9" height="117.4" fill="none" stroke="#000" stroke-width="1.45"/>
<line x1="221.1" y1="577.8" x2="221.1" y2="581.8" stroke="#000" stroke-width="1"/>
<line x1="250.58" y1="577.8" x2="250.58" y2="581.8" stroke="#000" stroke-width="1"/>
<line x1="280.06" y1="577.8" x2="280.06" y2="581.8" stroke="#000" stroke-width="1"/>
<line x1="309.54" y1="577.8" x2="309.54" y2="581.8" stroke="#000" stroke-width="1"/>
<line x1="339.02" y1="577.8" x2="339.02" y2="581.8" stroke="#000" stroke-width="1"/>
<text x="220.35" y="594.19" font-size="13.4" font-family='"Liberation Serif", serif' textLength="6.3" lengthAdjust="spacingAndGlyphs" stroke="#000" stroke-width="0.22">0</text>
<text x="248.33" y="594.22" font-size="13.4" font-family='"Liberation Serif", serif' textLength="6.3" lengthAdjust="spacingAndGlyphs" stroke="#000" stroke-width="0.22">2</text>
<text x="277.71" y="594.22" font-size="13.4" font-family='"Liberation Serif", serif' textLength="6.3" lengthAdjust="spacingAndGlyphs" stroke="#000" stroke-width="0.22">4</text>
<text x="307.1" y="594.15" font-size="13.4" font-family='"Liberation Serif", serif' textLength="6.3" lengthAdjust="spacingAndGlyphs" stroke="#000" stroke-width="0.22">6</text>
<text x="336.67" y="594.19" font-size="13.4" font-family='"Liberation Serif", serif' textLength="6.3" lengthAdjust="spacingAndGlyphs" stroke="#000" stroke-width="0.22">8</text>
<polyline points="250.58,566.2 265.32,567.7 309.54,566.2" fill="none" stroke="#000" stroke-width="1.25" stroke-dasharray="2.4 4.0"/>
<polyline points="250.58,559.4 265.32,561.5 309.54,565.2" fill="none" stroke="#000" stroke-width="1.25" stroke-dasharray="2.4 4.0"/>
<polyline points="250.58,558.5 265.32,539 309.54,543.4" fill="none" stroke="#000" stroke-width="1.25"/>
<polyline points="250.58,547 265.32,506.2 309.54,496" fill="none" stroke="#000" stroke-width="1.25"/>
<line x1="265.32" y1="497" x2="265.32" y2="513.2" stroke="#000" stroke-width="1"/>
<line x1="263.12" y1="497" x2="267.52" y2="497" stroke="#000" stroke-width="1"/>
<line x1="263.12" y1="513.2" x2="267.52" y2="513.2" stroke="#000" stroke-width="1"/>
<line x1="309.54" y1="483.7" x2="309.54" y2="507" stroke="#000" stroke-width="1"/>
<line x1="307.34" y1="483.7" x2="311.74" y2="483.7" stroke="#000" stroke-width="1"/>
<line x1="307.34" y1="507" x2="311.74" y2="507" stroke="#000" stroke-width="1"/>
<line x1="265.32" y1="533" x2="265.32" y2="544.6" stroke="#000" stroke-width="1"/>
<line x1="263.12" y1="533" x2="267.52" y2="533" stroke="#000" stroke-width="1"/>
<line x1="263.12" y1="544.6" x2="267.52" y2="544.6" stroke="#000" stroke-width="1"/>
<circle cx="250.58" cy="547" r="2.6" fill="#000" stroke="#000" stroke-width="1.3"/>
<circle cx="265.32" cy="506.2" r="2.6" fill="#000" stroke="#000" stroke-width="1.3"/>
<circle cx="309.54" cy="496" r="2.6" fill="#000" stroke="#000" stroke-width="1.3"/>
<rect x="248.18" y="556.1" width="4.8" height="4.8" fill="#000" stroke="#000" stroke-width="1.3"/>
<rect x="262.92" y="536.6" width="4.8" height="4.8" fill="#000" stroke="#000" stroke-width="1.3"/>
<rect x="307.14" y="541" width="4.8" height="4.8" fill="#000" stroke="#000" stroke-width="1.3"/>
<circle cx="250.58" cy="559.4" r="2.6" fill="#fff" stroke="#000" stroke-width="1.3"/>
<circle cx="265.32" cy="561.5" r="2.6" fill="#fff" stroke="#000" stroke-width="1.3"/>
<circle cx="309.54" cy="565.2" r="2.6" fill="#fff" stroke="#000" stroke-width="1.3"/>
<rect x="248.18" y="563.8" width="4.8" height="4.8" fill="#fff" stroke="#000" stroke-width="1.3"/>
<rect x="262.92" y="565.3" width="4.8" height="4.8" fill="#fff" stroke="#000" stroke-width="1.3"/>
<rect x="307.14" y="563.8" width="4.8" height="4.8" fill="#fff" stroke="#000" stroke-width="1.3"/>
<rect x="347.3" y="460.2" width="118.3" height="118.1" fill="none" stroke="#000" stroke-width="1.45"/>
<line x1="347.3" y1="578.3" x2="347.3" y2="582.3" stroke="#000" stroke-width="1"/>
<line x1="376.88" y1="578.3" x2="376.88" y2="582.3" stroke="#000" stroke-width="1"/>
<line x1="406.46" y1="578.3" x2="406.46" y2="582.3" stroke="#000" stroke-width="1"/>
<line x1="436.04" y1="578.3" x2="436.04" y2="582.3" stroke="#000" stroke-width="1"/>
<line x1="465.62" y1="578.3" x2="465.62" y2="582.3" stroke="#000" stroke-width="1"/>
<text x="344.95" y="594.19" font-size="13.4" font-family='"Liberation Serif", serif' textLength="6.3" lengthAdjust="spacingAndGlyphs" stroke="#000" stroke-width="0.22">0</text>
<text x="374.63" y="594.22" font-size="13.4" font-family='"Liberation Serif", serif' textLength="6.3" lengthAdjust="spacingAndGlyphs" stroke="#000" stroke-width="0.22">2</text>
<text x="404.11" y="594.22" font-size="13.4" font-family='"Liberation Serif", serif' textLength="6.3" lengthAdjust="spacingAndGlyphs" stroke="#000" stroke-width="0.22">4</text>
<text x="433.6" y="594.15" font-size="13.4" font-family='"Liberation Serif", serif' textLength="6.3" lengthAdjust="spacingAndGlyphs" stroke="#000" stroke-width="0.22">6</text>
<text x="463.27" y="594.19" font-size="13.4" font-family='"Liberation Serif", serif' textLength="6.3" lengthAdjust="spacingAndGlyphs" stroke="#000" stroke-width="0.22">8</text>
<polyline points="376.88,569.6 391.67,569 436.04,562.7" fill="none" stroke="#000" stroke-width="1.25" stroke-dasharray="2.4 4.0"/>
<polyline points="376.88,569 391.67,567 436.04,562" fill="none" stroke="#000" stroke-width="1.25" stroke-dasharray="2.4 4.0"/>
<polyline points="376.88,568.5 391.67,563 436.04,549.5" fill="none" stroke="#000" stroke-width="1.25"/>
<polyline points="376.88,568 391.67,561 436.04,546" fill="none" stroke="#000" stroke-width="1.25"/>
<line x1="391.67" y1="552.3" x2="391.67" y2="566" stroke="#000" stroke-width="1"/>
<line x1="389.47" y1="552.3" x2="393.87" y2="552.3" stroke="#000" stroke-width="1"/>
<line x1="389.47" y1="566" x2="393.87" y2="566" stroke="#000" stroke-width="1"/>
<line x1="436.04" y1="538.5" x2="436.04" y2="552" stroke="#000" stroke-width="1"/>
<line x1="433.84" y1="538.5" x2="438.24" y2="538.5" stroke="#000" stroke-width="1"/>
<line x1="433.84" y1="552" x2="438.24" y2="552" stroke="#000" stroke-width="1"/>
<circle cx="376.88" cy="568" r="2.6" fill="#000" stroke="#000" stroke-width="1.3"/>
<circle cx="391.67" cy="561" r="2.6" fill="#000" stroke="#000" stroke-width="1.3"/>
<circle cx="436.04" cy="546" r="2.6" fill="#000" stroke="#000" stroke-width="1.3"/>
<rect x="374.48" y="566.1" width="4.8" height="4.8" fill="#000" stroke="#000" stroke-width="1.3"/>
<rect x="389.27" y="560.6" width="4.8" height="4.8" fill="#000" stroke="#000" stroke-width="1.3"/>
<rect x="433.64" y="547.1" width="4.8" height="4.8" fill="#000" stroke="#000" stroke-width="1.3"/>
<circle cx="376.88" cy="569" r="2.6" fill="#fff" stroke="#000" stroke-width="1.3"/>
<circle cx="391.67" cy="567" r="2.6" fill="#fff" stroke="#000" stroke-width="1.3"/>
<circle cx="436.04" cy="562" r="2.6" fill="#fff" stroke="#000" stroke-width="1.3"/>
<rect x="374.48" y="567.2" width="4.8" height="4.8" fill="#fff" stroke="#000" stroke-width="1.3"/>
<rect x="389.27" y="566.6" width="4.8" height="4.8" fill="#fff" stroke="#000" stroke-width="1.3"/>
<rect x="433.64" y="560.3" width="4.8" height="4.8" fill="#fff" stroke="#000" stroke-width="1.3"/>
<rect x="96.9" y="598.5" width="117.5" height="117.8" fill="none" stroke="#000" stroke-width="1.45"/>
<line x1="96.9" y1="716.3" x2="96.9" y2="720.3" stroke="#000" stroke-width="1"/>
<line x1="126.28" y1="716.3" x2="126.28" y2="720.3" stroke="#000" stroke-width="1"/>
<line x1="155.66" y1="716.3" x2="155.66" y2="720.3" stroke="#000" stroke-width="1"/>
<line x1="185.04" y1="716.3" x2="185.04" y2="720.3" stroke="#000" stroke-width="1"/>
<line x1="214.42" y1="716.3" x2="214.42" y2="720.3" stroke="#000" stroke-width="1"/>
<text x="94.55" y="731.09" font-size="13.4" font-family='"Liberation Serif", serif' textLength="6.3" lengthAdjust="spacingAndGlyphs" stroke="#000" stroke-width="0.22">0</text>
<text x="124.03" y="731.12" font-size="13.4" font-family='"Liberation Serif", serif' textLength="6.3" lengthAdjust="spacingAndGlyphs" stroke="#000" stroke-width="0.22">2</text>
<text x="153.31" y="731.12" font-size="13.4" font-family='"Liberation Serif", serif' textLength="6.3" lengthAdjust="spacingAndGlyphs" stroke="#000" stroke-width="0.22">4</text>
<text x="182.6" y="731.06" font-size="13.4" font-family='"Liberation Serif", serif' textLength="6.3" lengthAdjust="spacingAndGlyphs" stroke="#000" stroke-width="0.22">6</text>
<text x="212.07" y="731.09" font-size="13.4" font-family='"Liberation Serif", serif' textLength="6.3" lengthAdjust="spacingAndGlyphs" stroke="#000" stroke-width="0.22">8</text>
<line x1="92.3" y1="716.3" x2="96.9" y2="716.3" stroke="#000" stroke-width="1"/>
<text x="86.04" y="718.96" font-size="13" font-family='"Liberation Serif", serif' textLength="5.66" lengthAdjust="spacingAndGlyphs" stroke="#000" stroke-width="0.22">0</text>
<line x1="92.3" y1="686.85" x2="96.9" y2="686.85" stroke="#000" stroke-width="1"/>
<text x="78.99" y="690.81" font-size="13" font-family='"Liberation Serif", serif' textLength="11.31" lengthAdjust="spacingAndGlyphs" stroke="#000" stroke-width="0.22">20</text>
<line x1="92.3" y1="657.4" x2="96.9" y2="657.4" stroke="#000" stroke-width="1"/>
<text x="78.99" y="661.36" font-size="13" font-family='"Liberation Serif", serif' textLength="11.31" lengthAdjust="spacingAndGlyphs" stroke="#000" stroke-width="0.22">40</text>
<line x1="92.3" y1="627.95" x2="96.9" y2="627.95" stroke="#000" stroke-width="1"/>
<text x="78.99" y="631.91" font-size="13" font-family='"Liberation Serif", serif' textLength="11.31" lengthAdjust="spacingAndGlyphs" stroke="#000" stroke-width="0.22">60</text>
<line x1="92.3" y1="598.5" x2="96.9" y2="598.5" stroke="#000" stroke-width="1"/>
<text x="78.99" y="602.46" font-size="13" font-family='"Liberation Serif", serif' textLength="11.31" lengthAdjust="spacingAndGlyphs" stroke="#000" stroke-width="0.22">80</text>
<polyline points="111.59,707 126.28,699 155.66,688.3 185.04,687.7" fill="none" stroke="#000" stroke-width="1.25" stroke-dasharray="2.4 4.0"/>
<polyline points="111.59,708 126.28,704 155.66,701.5 185.04,702.5" fill="none" stroke="#000" stroke-width="1.25" stroke-dasharray="2.4 4.0"/>
<polyline points="111.59,708 126.28,704 155.66,690 185.04,688" fill="none" stroke="#000" stroke-width="1.25"/>
<polyline points="111.59,709 126.28,705.5 155.66,701.5 185.04,698.5" fill="none" stroke="#000" stroke-width="1.25"/>
<line x1="155.66" y1="680" x2="155.66" y2="696" stroke="#000" stroke-width="1"/>
<line x1="153.46" y1="680" x2="157.86" y2="680" stroke="#000" stroke-width="1"/>
<line x1="153.46" y1="696" x2="157.86" y2="696" stroke="#000" stroke-width="1"/>
<line x1="185.04" y1="683" x2="185.04" y2="693" stroke="#000" stroke-width="1"/>
<line x1="182.84" y1="683" x2="187.24" y2="683" stroke="#000" stroke-width="1"/>
<line x1="182.84" y1="693" x2="187.24" y2="693" stroke="#000" stroke-width="1"/>
<circle cx="111.59" cy="709" r="2.6" fill="#000" stroke="#000" stroke-width="1.3"/>
<circle cx="126.28" cy="705.5" r="2.6" fill="#000" stroke="#000" stroke-width="1.3"/>
<circle cx="155.66" cy="701.5" r="2.6" fill="#000" stroke="#000" stroke-width="1.3"/>
<circle cx="185.04" cy="698.5" r="2.6" fill="#000" stroke="#000" stroke-width="1.3"/>
<rect x="109.19" y="705.6" width="4.8" height="4.8" fill="#000" stroke="#000" stroke-width="1.3"/>
<rect x="123.88" y="701.6" width="4.8" height="4.8" fill="#000" stroke="#000" stroke-width="1.3"/>
<rect x="153.26" y="687.6" width="4.8" height="4.8" fill="#000" stroke="#000" stroke-width="1.3"/>
<rect x="182.64" y="685.6" width="4.8" height="4.8" fill="#000" stroke="#000" stroke-width="1.3"/>
<circle cx="111.59" cy="708" r="2.6" fill="#fff" stroke="#000" stroke-width="1.3"/>
<circle cx="126.28" cy="704" r="2.6" fill="#fff" stroke="#000" stroke-width="1.3"/>
<circle cx="155.66" cy="701.5" r="2.6" fill="#fff" stroke="#000" stroke-width="1.3"/>
<circle cx="185.04" cy="702.5" r="2.6" fill="#fff" stroke="#000" stroke-width="1.3"/>
<rect x="109.19" y="704.6" width="4.8" height="4.8" fill="#fff" stroke="#000" stroke-width="1.3"/>
<rect x="123.88" y="696.6" width="4.8" height="4.8" fill="#fff" stroke="#000" stroke-width="1.3"/>
<rect x="153.26" y="685.9" width="4.8" height="4.8" fill="#fff" stroke="#000" stroke-width="1.3"/>
<rect x="182.64" y="685.3" width="4.8" height="4.8" fill="#fff" stroke="#000" stroke-width="1.3"/>
<rect x="221.9" y="598.5" width="117" height="117.8" fill="none" stroke="#000" stroke-width="1.45"/>
<line x1="221.9" y1="716.3" x2="221.9" y2="720.3" stroke="#000" stroke-width="1"/>
<line x1="251.16" y1="716.3" x2="251.16" y2="720.3" stroke="#000" stroke-width="1"/>
<line x1="280.42" y1="716.3" x2="280.42" y2="720.3" stroke="#000" stroke-width="1"/>
<line x1="309.68" y1="716.3" x2="309.68" y2="720.3" stroke="#000" stroke-width="1"/>
<line x1="338.94" y1="716.3" x2="338.94" y2="720.3" stroke="#000" stroke-width="1"/>
<text x="219.55" y="731.09" font-size="13.4" font-family='"Liberation Serif", serif' textLength="6.3" lengthAdjust="spacingAndGlyphs" stroke="#000" stroke-width="0.22">0</text>
<text x="248.91" y="731.12" font-size="13.4" font-family='"Liberation Serif", serif' textLength="6.3" lengthAdjust="spacingAndGlyphs" stroke="#000" stroke-width="0.22">2</text>
<text x="278.07" y="731.12" font-size="13.4" font-family='"Liberation Serif", serif' textLength="6.3" lengthAdjust="spacingAndGlyphs" stroke="#000" stroke-width="0.22">4</text>
<text x="307.24" y="731.06" font-size="13.4" font-family='"Liberation Serif", serif' textLength="6.3" lengthAdjust="spacingAndGlyphs" stroke="#000" stroke-width="0.22">6</text>
<text x="336.59" y="731.09" font-size="13.4" font-family='"Liberation Serif", serif' textLength="6.3" lengthAdjust="spacingAndGlyphs" stroke="#000" stroke-width="0.22">8</text>
<polyline points="236.53,704.6 251.16,703 280.42,712.3 309.68,708.6" fill="none" stroke="#000" stroke-width="1.25" stroke-dasharray="2.4 4.0"/>
<polyline points="236.53,706 251.16,706.8 280.42,710 309.68,704.6" fill="none" stroke="#000" stroke-width="1.25" stroke-dasharray="2.4 4.0"/>
<polyline points="236.53,707.7 251.16,689.2 280.42,695.4 309.68,695.4" fill="none" stroke="#000" stroke-width="1.25"/>
<polyline points="236.53,706 251.16,695.4 280.42,704.6 309.68,697" fill="none" stroke="#000" stroke-width="1.25"/>
<line x1="280.42" y1="683" x2="280.42" y2="700" stroke="#000" stroke-width="1"/>
<line x1="278.22" y1="683" x2="282.62" y2="683" stroke="#000" stroke-width="1"/>
<line x1="278.22" y1="700" x2="282.62" y2="700" stroke="#000" stroke-width="1"/>
<line x1="309.68" y1="688.3" x2="309.68" y2="700" stroke="#000" stroke-width="1"/>
<line x1="307.48" y1="688.3" x2="311.88" y2="688.3" stroke="#000" stroke-width="1"/>
<line x1="307.48" y1="700" x2="311.88" y2="700" stroke="#000" stroke-width="1"/>
<circle cx="236.53" cy="706" r="2.6" fill="#000" stroke="#000" stroke-width="1.3"/>
<circle cx="251.16" cy="695.4" r="2.6" fill="#000" stroke="#000" stroke-width="1.3"/>
<circle cx="280.42" cy="704.6" r="2.6" fill="#000" stroke="#000" stroke-width="1.3"/>
<circle cx="309.68" cy="697" r="2.6" fill="#000" stroke="#000" stroke-width="1.3"/>
<rect x="234.13" y="705.3" width="4.8" height="4.8" fill="#000" stroke="#000" stroke-width="1.3"/>
<rect x="248.76" y="686.8" width="4.8" height="4.8" fill="#000" stroke="#000" stroke-width="1.3"/>
<rect x="278.02" y="693" width="4.8" height="4.8" fill="#000" stroke="#000" stroke-width="1.3"/>
<rect x="307.28" y="693" width="4.8" height="4.8" fill="#000" stroke="#000" stroke-width="1.3"/>
<circle cx="236.53" cy="706" r="2.6" fill="#fff" stroke="#000" stroke-width="1.3"/>
<circle cx="251.16" cy="706.8" r="2.6" fill="#fff" stroke="#000" stroke-width="1.3"/>
<circle cx="280.42" cy="710" r="2.6" fill="#fff" stroke="#000" stroke-width="1.3"/>
<circle cx="309.68" cy="704.6" r="2.6" fill="#fff" stroke="#000" stroke-width="1.3"/>
<rect x="234.13" y="702.2" width="4.8" height="4.8" fill="#fff" stroke="#000" stroke-width="1.3"/>
<rect x="248.76" y="700.6" width="4.8" height="4.8" fill="#fff" stroke="#000" stroke-width="1.3"/>
<rect x="278.02" y="709.9" width="4.8" height="4.8" fill="#fff" stroke="#000" stroke-width="1.3"/>
<rect x="307.28" y="706.2" width="4.8" height="4.8" fill="#fff" stroke="#000" stroke-width="1.3"/>
<rect x="347.7" y="597.8" width="117.5" height="117.6" fill="none" stroke="#000" stroke-width="1.45"/>
<line x1="347.7" y1="715.4" x2="347.7" y2="719.4" stroke="#000" stroke-width="1"/>
<line x1="377.08" y1="715.4" x2="377.08" y2="719.4" stroke="#000" stroke-width="1"/>
<line x1="406.46" y1="715.4" x2="406.46" y2="719.4" stroke="#000" stroke-width="1"/>
<line x1="435.84" y1="715.4" x2="435.84" y2="719.4" stroke="#000" stroke-width="1"/>
<line x1="465.22" y1="715.4" x2="465.22" y2="719.4" stroke="#000" stroke-width="1"/>
<text x="345.35" y="731.09" font-size="13.4" font-family='"Liberation Serif", serif' textLength="6.3" lengthAdjust="spacingAndGlyphs" stroke="#000" stroke-width="0.22">0</text>
<text x="374.83" y="731.12" font-size="13.4" font-family='"Liberation Serif", serif' textLength="6.3" lengthAdjust="spacingAndGlyphs" stroke="#000" stroke-width="0.22">2</text>
<text x="404.11" y="731.12" font-size="13.4" font-family='"Liberation Serif", serif' textLength="6.3" lengthAdjust="spacingAndGlyphs" stroke="#000" stroke-width="0.22">4</text>
<text x="433.4" y="731.06" font-size="13.4" font-family='"Liberation Serif", serif' textLength="6.3" lengthAdjust="spacingAndGlyphs" stroke="#000" stroke-width="0.22">6</text>
<text x="462.87" y="731.09" font-size="13.4" font-family='"Liberation Serif", serif' textLength="6.3" lengthAdjust="spacingAndGlyphs" stroke="#000" stroke-width="0.22">8</text>
<polyline points="362.39,710.2 377.08,698.5 406.46,698.5 435.84,696.3" fill="none" stroke="#000" stroke-width="1.25" stroke-dasharray="2.4 4.0"/>
<polyline points="362.39,710.2 377.08,698.5 406.46,708.6 435.84,702.5" fill="none" stroke="#000" stroke-width="1.25" stroke-dasharray="2.4 4.0"/>
<polyline points="362.39,710.2 377.08,703 406.46,690.2 435.84,689.2" fill="none" stroke="#000" stroke-width="1.25"/>
<polyline points="362.39,710.2 377.08,700 406.46,703 435.84,705" fill="none" stroke="#000" stroke-width="1.25"/>
<line x1="377.08" y1="691.7" x2="377.08" y2="706" stroke="#000" stroke-width="1"/>
<line x1="374.88" y1="691.7" x2="379.28" y2="691.7" stroke="#000" stroke-width="1"/>
<line x1="374.88" y1="706" x2="379.28" y2="706" stroke="#000" stroke-width="1"/>
<line x1="406.46" y1="673.8" x2="406.46" y2="700" stroke="#000" stroke-width="1"/>
<line x1="404.26" y1="673.8" x2="408.66" y2="673.8" stroke="#000" stroke-width="1"/>
<line x1="404.26" y1="700" x2="408.66" y2="700" stroke="#000" stroke-width="1"/>
<line x1="435.84" y1="673" x2="435.84" y2="700" stroke="#000" stroke-width="1"/>
<line x1="433.64" y1="673" x2="438.04" y2="673" stroke="#000" stroke-width="1"/>
<line x1="433.64" y1="700" x2="438.04" y2="700" stroke="#000" stroke-width="1"/>
<circle cx="362.39" cy="710.2" r="2.6" fill="#000" stroke="#000" stroke-width="1.3"/>
<circle cx="377.08" cy="700" r="2.6" fill="#000" stroke="#000" stroke-width="1.3"/>
<circle cx="406.46" cy="703" r="2.6" fill="#000" stroke="#000" stroke-width="1.3"/>
<circle cx="435.84" cy="705" r="2.6" fill="#000" stroke="#000" stroke-width="1.3"/>
<rect x="359.99" y="707.8" width="4.8" height="4.8" fill="#000" stroke="#000" stroke-width="1.3"/>
<rect x="374.68" y="700.6" width="4.8" height="4.8" fill="#000" stroke="#000" stroke-width="1.3"/>
<rect x="404.06" y="687.8" width="4.8" height="4.8" fill="#000" stroke="#000" stroke-width="1.3"/>
<rect x="433.44" y="686.8" width="4.8" height="4.8" fill="#000" stroke="#000" stroke-width="1.3"/>
<circle cx="362.39" cy="710.2" r="2.6" fill="#fff" stroke="#000" stroke-width="1.3"/>
<circle cx="377.08" cy="698.5" r="2.6" fill="#fff" stroke="#000" stroke-width="1.3"/>
<circle cx="406.46" cy="708.6" r="2.6" fill="#fff" stroke="#000" stroke-width="1.3"/>
<circle cx="435.84" cy="702.5" r="2.6" fill="#fff" stroke="#000" stroke-width="1.3"/>
<rect x="359.99" y="707.8" width="4.8" height="4.8" fill="#fff" stroke="#000" stroke-width="1.3"/>
<rect x="374.68" y="696.1" width="4.8" height="4.8" fill="#fff" stroke="#000" stroke-width="1.3"/>
<rect x="404.06" y="696.1" width="4.8" height="4.8" fill="#fff" stroke="#000" stroke-width="1.3"/>
<rect x="433.44" y="693.9" width="4.8" height="4.8" fill="#fff" stroke="#000" stroke-width="1.3"/>
<rect x="97.5" y="735.8" width="116.8" height="118.7" fill="none" stroke="#000" stroke-width="1.45"/>
<line x1="97.5" y1="854.5" x2="97.5" y2="858.5" stroke="#000" stroke-width="1"/>
<line x1="126.7" y1="854.5" x2="126.7" y2="858.5" stroke="#000" stroke-width="1"/>
<line x1="155.9" y1="854.5" x2="155.9" y2="858.5" stroke="#000" stroke-width="1"/>
<line x1="185.1" y1="854.5" x2="185.1" y2="858.5" stroke="#000" stroke-width="1"/>
<line x1="214.3" y1="854.5" x2="214.3" y2="858.5" stroke="#000" stroke-width="1"/>
<text x="95.15" y="870.39" font-size="13.4" font-family='"Liberation Serif", serif' textLength="6.3" lengthAdjust="spacingAndGlyphs" stroke="#000" stroke-width="0.22">0</text>
<text x="124.45" y="870.42" font-size="13.4" font-family='"Liberation Serif", serif' textLength="6.3" lengthAdjust="spacingAndGlyphs" stroke="#000" stroke-width="0.22">2</text>
<text x="153.55" y="870.42" font-size="13.4" font-family='"Liberation Serif", serif' textLength="6.3" lengthAdjust="spacingAndGlyphs" stroke="#000" stroke-width="0.22">4</text>
<text x="182.66" y="870.36" font-size="13.4" font-family='"Liberation Serif", serif' textLength="6.3" lengthAdjust="spacingAndGlyphs" stroke="#000" stroke-width="0.22">6</text>
<text x="211.95" y="870.39" font-size="13.4" font-family='"Liberation Serif", serif' textLength="6.3" lengthAdjust="spacingAndGlyphs" stroke="#000" stroke-width="0.22">8</text>
<line x1="92.9" y1="854.5" x2="97.5" y2="854.5" stroke="#000" stroke-width="1"/>
<text x="86.64" y="857.16" font-size="13" font-family='"Liberation Serif", serif' textLength="5.66" lengthAdjust="spacingAndGlyphs" stroke="#000" stroke-width="0.22">0</text>
<line x1="92.9" y1="824.88" x2="97.5" y2="824.88" stroke="#000" stroke-width="1"/>
<text x="79.59" y="828.83" font-size="13" font-family='"Liberation Serif", serif' textLength="11.31" lengthAdjust="spacingAndGlyphs" stroke="#000" stroke-width="0.22">20</text>
<line x1="92.9" y1="795.25" x2="97.5" y2="795.25" stroke="#000" stroke-width="1"/>
<text x="79.59" y="799.21" font-size="13" font-family='"Liberation Serif", serif' textLength="11.31" lengthAdjust="spacingAndGlyphs" stroke="#000" stroke-width="0.22">40</text>
<line x1="92.9" y1="765.62" x2="97.5" y2="765.62" stroke="#000" stroke-width="1"/>
<text x="79.59" y="769.58" font-size="13" font-family='"Liberation Serif", serif' textLength="11.31" lengthAdjust="spacingAndGlyphs" stroke="#000" stroke-width="0.22">60</text>
<line x1="92.9" y1="736" x2="97.5" y2="736" stroke="#000" stroke-width="1"/>
<text x="79.59" y="739.96" font-size="13" font-family='"Liberation Serif", serif' textLength="11.31" lengthAdjust="spacingAndGlyphs" stroke="#000" stroke-width="0.22">80</text>
<polyline points="112.1,843 126.7,842.2 155.9,828.3 185.1,828.3" fill="none" stroke="#000" stroke-width="1.25" stroke-dasharray="2.4 4.0"/>
<polyline points="112.1,839.4 126.7,834.8 155.9,804.6 185.1,799" fill="none" stroke="#000" stroke-width="1.25" stroke-dasharray="2.4 4.0"/>
<polyline points="112.1,842 126.7,844.6 155.9,823 185.1,824.6" fill="none" stroke="#000" stroke-width="1.25"/>
<polyline points="112.1,840 126.7,835 155.9,792.9 185.1,792.9" fill="none" stroke="#000" stroke-width="1.25"/>
<line x1="155.9" y1="786" x2="155.9" y2="800" stroke="#000" stroke-width="1"/>
<line x1="153.7" y1="786" x2="158.1" y2="786" stroke="#000" stroke-width="1"/>
<line x1="153.7" y1="800" x2="158.1" y2="800" stroke="#000" stroke-width="1"/>
<line x1="185.1" y1="787" x2="185.1" y2="800" stroke="#000" stroke-width="1"/>
<line x1="182.9" y1="787" x2="187.3" y2="787" stroke="#000" stroke-width="1"/>
<line x1="182.9" y1="800" x2="187.3" y2="800" stroke="#000" stroke-width="1"/>
<line x1="155.9" y1="798" x2="155.9" y2="812" stroke="#000" stroke-width="1"/>
<line x1="153.7" y1="798" x2="158.1" y2="798" stroke="#000" stroke-width="1"/>
<line x1="153.7" y1="812" x2="158.1" y2="812" stroke="#000" stroke-width="1"/>
<line x1="155.9" y1="822" x2="155.9" y2="836.3" stroke="#000" stroke-width="1"/>
<line x1="153.7" y1="822" x2="158.1" y2="822" stroke="#000" stroke-width="1"/>
<line x1="153.7" y1="836.3" x2="158.1" y2="836.3" stroke="#000" stroke-width="1"/>
<line x1="185.1" y1="822" x2="185.1" y2="835.4" stroke="#000" stroke-width="1"/>
<line x1="182.9" y1="822" x2="187.3" y2="822" stroke="#000" stroke-width="1"/>
<line x1="182.9" y1="835.4" x2="187.3" y2="835.4" stroke="#000" stroke-width="1"/>
<line x1="126.7" y1="829.2" x2="126.7" y2="846" stroke="#000" stroke-width="1"/>
<line x1="124.5" y1="829.2" x2="128.9" y2="829.2" stroke="#000" stroke-width="1"/>
<line x1="124.5" y1="846" x2="128.9" y2="846" stroke="#000" stroke-width="1"/>
<circle cx="112.1" cy="840" r="2.6" fill="#000" stroke="#000" stroke-width="1.3"/>
<circle cx="126.7" cy="835" r="2.6" fill="#000" stroke="#000" stroke-width="1.3"/>
<circle cx="155.9" cy="792.9" r="2.6" fill="#000" stroke="#000" stroke-width="1.3"/>
<circle cx="185.1" cy="792.9" r="2.6" fill="#000" stroke="#000" stroke-width="1.3"/>
<rect x="109.7" y="839.6" width="4.8" height="4.8" fill="#000" stroke="#000" stroke-width="1.3"/>
<rect x="124.3" y="842.2" width="4.8" height="4.8" fill="#000" stroke="#000" stroke-width="1.3"/>
<rect x="153.5" y="820.6" width="4.8" height="4.8" fill="#000" stroke="#000" stroke-width="1.3"/>
<rect x="182.7" y="822.2" width="4.8" height="4.8" fill="#000" stroke="#000" stroke-width="1.3"/>
<circle cx="112.1" cy="839.4" r="2.6" fill="#fff" stroke="#000" stroke-width="1.3"/>
<circle cx="126.7" cy="834.8" r="2.6" fill="#fff" stroke="#000" stroke-width="1.3"/>
<circle cx="155.9" cy="804.6" r="2.6" fill="#fff" stroke="#000" stroke-width="1.3"/>
<circle cx="185.1" cy="799" r="2.6" fill="#fff" stroke="#000" stroke-width="1.3"/>
<rect x="109.7" y="840.6" width="4.8" height="4.8" fill="#fff" stroke="#000" stroke-width="1.3"/>
<rect x="124.3" y="839.8" width="4.8" height="4.8" fill="#fff" stroke="#000" stroke-width="1.3"/>
<rect x="153.5" y="825.9" width="4.8" height="4.8" fill="#fff" stroke="#000" stroke-width="1.3"/>
<rect x="182.7" y="825.9" width="4.8" height="4.8" fill="#fff" stroke="#000" stroke-width="1.3"/>
<rect x="221.9" y="735.4" width="117.6" height="119.1" fill="none" stroke="#000" stroke-width="1.45"/>
<line x1="221.9" y1="854.5" x2="221.9" y2="858.5" stroke="#000" stroke-width="1"/>
<line x1="251.3" y1="854.5" x2="251.3" y2="858.5" stroke="#000" stroke-width="1"/>
<line x1="280.7" y1="854.5" x2="280.7" y2="858.5" stroke="#000" stroke-width="1"/>
<line x1="310.1" y1="854.5" x2="310.1" y2="858.5" stroke="#000" stroke-width="1"/>
<line x1="339.5" y1="854.5" x2="339.5" y2="858.5" stroke="#000" stroke-width="1"/>
<text x="221.25" y="870.39" font-size="13.4" font-family='"Liberation Serif", serif' textLength="6.3" lengthAdjust="spacingAndGlyphs" stroke="#000" stroke-width="0.22">0</text>
<text x="249.05" y="870.42" font-size="13.4" font-family='"Liberation Serif", serif' textLength="6.3" lengthAdjust="spacingAndGlyphs" stroke="#000" stroke-width="0.22">2</text>
<text x="278.35" y="870.42" font-size="13.4" font-family='"Liberation Serif", serif' textLength="6.3" lengthAdjust="spacingAndGlyphs" stroke="#000" stroke-width="0.22">4</text>
<text x="307.66" y="870.36" font-size="13.4" font-family='"Liberation Serif", serif' textLength="6.3" lengthAdjust="spacingAndGlyphs" stroke="#000" stroke-width="0.22">6</text>
<text x="337.15" y="870.39" font-size="13.4" font-family='"Liberation Serif", serif' textLength="6.3" lengthAdjust="spacingAndGlyphs" stroke="#000" stroke-width="0.22">8</text>
<polyline points="236.6,831.4 251.3,836.3 280.7,838.5 310.1,840.6" fill="none" stroke="#000" stroke-width="1.25" stroke-dasharray="2.4 4.0"/>
<polyline points="236.6,827.7 251.3,822.5 280.7,836.9 310.1,838.5" fill="none" stroke="#000" stroke-width="1.25" stroke-dasharray="2.4 4.0"/>
<polyline points="236.6,834.5 251.3,821 280.7,812.9 310.1,824.6" fill="none" stroke="#000" stroke-width="1.25"/>
<polyline points="236.6,832 251.3,797.5 280.7,764 310.1,782.8" fill="none" stroke="#000" stroke-width="1.25"/>
<line x1="310.1" y1="766.8" x2="310.1" y2="797.8" stroke="#000" stroke-width="1"/>
<line x1="307.9" y1="766.8" x2="312.3" y2="766.8" stroke="#000" stroke-width="1"/>
<line x1="307.9" y1="797.8" x2="312.3" y2="797.8" stroke="#000" stroke-width="1"/>
<line x1="280.7" y1="807" x2="280.7" y2="820" stroke="#000" stroke-width="1"/>
<line x1="278.5" y1="807" x2="282.9" y2="807" stroke="#000" stroke-width="1"/>
<line x1="278.5" y1="820" x2="282.9" y2="820" stroke="#000" stroke-width="1"/>
<line x1="310.1" y1="818" x2="310.1" y2="830" stroke="#000" stroke-width="1"/>
<line x1="307.9" y1="818" x2="312.3" y2="818" stroke="#000" stroke-width="1"/>
<line x1="307.9" y1="830" x2="312.3" y2="830" stroke="#000" stroke-width="1"/>
<line x1="236.6" y1="823" x2="236.6" y2="832" stroke="#000" stroke-width="1"/>
<line x1="234.4" y1="823" x2="238.8" y2="823" stroke="#000" stroke-width="1"/>
<line x1="234.4" y1="832" x2="238.8" y2="832" stroke="#000" stroke-width="1"/>
<line x1="280.7" y1="830" x2="280.7" y2="843" stroke="#000" stroke-width="1"/>
<line x1="278.5" y1="830" x2="282.9" y2="830" stroke="#000" stroke-width="1"/>
<line x1="278.5" y1="843" x2="282.9" y2="843" stroke="#000" stroke-width="1"/>
<circle cx="236.6" cy="832" r="2.6" fill="#000" stroke="#000" stroke-width="1.3"/>
<circle cx="251.3" cy="797.5" r="2.6" fill="#000" stroke="#000" stroke-width="1.3"/>
<circle cx="280.7" cy="764" r="2.6" fill="#000" stroke="#000" stroke-width="1.3"/>
<circle cx="310.1" cy="782.8" r="2.6" fill="#000" stroke="#000" stroke-width="1.3"/>
<rect x="234.2" y="832.1" width="4.8" height="4.8" fill="#000" stroke="#000" stroke-width="1.3"/>
<rect x="248.9" y="818.6" width="4.8" height="4.8" fill="#000" stroke="#000" stroke-width="1.3"/>
<rect x="278.3" y="810.5" width="4.8" height="4.8" fill="#000" stroke="#000" stroke-width="1.3"/>
<rect x="307.7" y="822.2" width="4.8" height="4.8" fill="#000" stroke="#000" stroke-width="1.3"/>
<circle cx="236.6" cy="827.7" r="2.6" fill="#fff" stroke="#000" stroke-width="1.3"/>
<circle cx="251.3" cy="822.5" r="2.6" fill="#fff" stroke="#000" stroke-width="1.3"/>
<circle cx="280.7" cy="836.9" r="2.6" fill="#fff" stroke="#000" stroke-width="1.3"/>
<circle cx="310.1" cy="838.5" r="2.6" fill="#fff" stroke="#000" stroke-width="1.3"/>
<rect x="234.2" y="829" width="4.8" height="4.8" fill="#fff" stroke="#000" stroke-width="1.3"/>
<rect x="248.9" y="833.9" width="4.8" height="4.8" fill="#fff" stroke="#000" stroke-width="1.3"/>
<rect x="278.3" y="836.1" width="4.8" height="4.8" fill="#fff" stroke="#000" stroke-width="1.3"/>
<rect x="307.7" y="838.2" width="4.8" height="4.8" fill="#fff" stroke="#000" stroke-width="1.3"/>
<rect x="347.7" y="735.4" width="118.3" height="119.1" fill="none" stroke="#000" stroke-width="1.45"/>
<line x1="347.7" y1="854.5" x2="347.7" y2="858.5" stroke="#000" stroke-width="1"/>
<line x1="377.28" y1="854.5" x2="377.28" y2="858.5" stroke="#000" stroke-width="1"/>
<line x1="406.86" y1="854.5" x2="406.86" y2="858.5" stroke="#000" stroke-width="1"/>
<line x1="436.44" y1="854.5" x2="436.44" y2="858.5" stroke="#000" stroke-width="1"/>
<line x1="466.02" y1="854.5" x2="466.02" y2="858.5" stroke="#000" stroke-width="1"/>
<text x="345.35" y="870.39" font-size="13.4" font-family='"Liberation Serif", serif' textLength="6.3" lengthAdjust="spacingAndGlyphs" stroke="#000" stroke-width="0.22">0</text>
<text x="375.03" y="870.42" font-size="13.4" font-family='"Liberation Serif", serif' textLength="6.3" lengthAdjust="spacingAndGlyphs" stroke="#000" stroke-width="0.22">2</text>
<text x="404.51" y="870.42" font-size="13.4" font-family='"Liberation Serif", serif' textLength="6.3" lengthAdjust="spacingAndGlyphs" stroke="#000" stroke-width="0.22">4</text>
<text x="434" y="870.36" font-size="13.4" font-family='"Liberation Serif", serif' textLength="6.3" lengthAdjust="spacingAndGlyphs" stroke="#000" stroke-width="0.22">6</text>
<text x="463.67" y="870.39" font-size="13.4" font-family='"Liberation Serif", serif' textLength="6.3" lengthAdjust="spacingAndGlyphs" stroke="#000" stroke-width="0.22">8</text>
<polyline points="362.49,842.2 377.28,837.5 406.86,830.8 436.44,826.2" fill="none" stroke="#000" stroke-width="1.25" stroke-dasharray="2.4 4.0"/>
<polyline points="362.49,838.5 377.28,824 406.86,786.2 436.44,782.2" fill="none" stroke="#000" stroke-width="1.25" stroke-dasharray="2.4 4.0"/>
<polyline points="362.49,838.5 377.28,837.5 406.86,813.8 436.44,816.9" fill="none" stroke="#000" stroke-width="1.25"/>
<polyline points="362.49,838.5 377.28,824 406.86,762.5 436.44,782.2" fill="none" stroke="#000" stroke-width="1.25"/>
<line x1="406.86" y1="750.2" x2="406.86" y2="775" stroke="#000" stroke-width="1"/>
<line x1="404.66" y1="750.2" x2="409.06" y2="750.2" stroke="#000" stroke-width="1"/>
<line x1="404.66" y1="775" x2="409.06" y2="775" stroke="#000" stroke-width="1"/>
<line x1="406.86" y1="769" x2="406.86" y2="801.5" stroke="#000" stroke-width="1"/>
<line x1="404.66" y1="769" x2="409.06" y2="769" stroke="#000" stroke-width="1"/>
<line x1="404.66" y1="801.5" x2="409.06" y2="801.5" stroke="#000" stroke-width="1"/>
<line x1="436.44" y1="767.7" x2="436.44" y2="795.4" stroke="#000" stroke-width="1"/>
<line x1="434.24" y1="767.7" x2="438.64" y2="767.7" stroke="#000" stroke-width="1"/>
<line x1="434.24" y1="795.4" x2="438.64" y2="795.4" stroke="#000" stroke-width="1"/>
<line x1="377.28" y1="818.5" x2="377.28" y2="830" stroke="#000" stroke-width="1"/>
<line x1="375.08" y1="818.5" x2="379.48" y2="818.5" stroke="#000" stroke-width="1"/>
<line x1="375.08" y1="830" x2="379.48" y2="830" stroke="#000" stroke-width="1"/>
<line x1="406.86" y1="801.5" x2="406.86" y2="824.6" stroke="#000" stroke-width="1"/>
<line x1="404.66" y1="801.5" x2="409.06" y2="801.5" stroke="#000" stroke-width="1"/>
<line x1="404.66" y1="824.6" x2="409.06" y2="824.6" stroke="#000" stroke-width="1"/>
<line x1="436.44" y1="809.2" x2="436.44" y2="822" stroke="#000" stroke-width="1"/>
<line x1="434.24" y1="809.2" x2="438.64" y2="809.2" stroke="#000" stroke-width="1"/>
<line x1="434.24" y1="822" x2="438.64" y2="822" stroke="#000" stroke-width="1"/>
<line x1="406.86" y1="822" x2="406.86" y2="842.5" stroke="#000" stroke-width="1"/>
<line x1="404.66" y1="822" x2="409.06" y2="822" stroke="#000" stroke-width="1"/>
<line x1="404.66" y1="842.5" x2="409.06" y2="842.5" stroke="#000" stroke-width="1"/>
<line x1="362.49" y1="833.8" x2="362.49" y2="845" stroke="#000" stroke-width="1"/>
<line x1="360.29" y1="833.8" x2="364.69" y2="833.8" stroke="#000" stroke-width="1"/>
<line x1="360.29" y1="845" x2="364.69" y2="845" stroke="#000" stroke-width="1"/>
<circle cx="362.49" cy="838.5" r="2.6" fill="#000" stroke="#000" stroke-width="1.3"/>
<circle cx="377.28" cy="824" r="2.6" fill="#000" stroke="#000" stroke-width="1.3"/>
<circle cx="406.86" cy="762.5" r="2.6" fill="#000" stroke="#000" stroke-width="1.3"/>
<circle cx="436.44" cy="782.2" r="2.6" fill="#000" stroke="#000" stroke-width="1.3"/>
<rect x="360.09" y="836.1" width="4.8" height="4.8" fill="#000" stroke="#000" stroke-width="1.3"/>
<rect x="374.88" y="835.1" width="4.8" height="4.8" fill="#000" stroke="#000" stroke-width="1.3"/>
<rect x="404.46" y="811.4" width="4.8" height="4.8" fill="#000" stroke="#000" stroke-width="1.3"/>
<rect x="434.04" y="814.5" width="4.8" height="4.8" fill="#000" stroke="#000" stroke-width="1.3"/>
<circle cx="362.49" cy="838.5" r="2.6" fill="#fff" stroke="#000" stroke-width="1.3"/>
<circle cx="377.28" cy="824" r="2.6" fill="#fff" stroke="#000" stroke-width="1.3"/>
<circle cx="406.86" cy="786.2" r="2.6" fill="#fff" stroke="#000" stroke-width="1.3"/>
<circle cx="436.44" cy="782.2" r="2.6" fill="#fff" stroke="#000" stroke-width="1.3"/>
<rect x="360.09" y="839.8" width="4.8" height="4.8" fill="#fff" stroke="#000" stroke-width="1.3"/>
<rect x="374.88" y="835.1" width="4.8" height="4.8" fill="#fff" stroke="#000" stroke-width="1.3"/>
<rect x="404.46" y="828.4" width="4.8" height="4.8" fill="#fff" stroke="#000" stroke-width="1.3"/>
<rect x="434.04" y="823.8" width="4.8" height="4.8" fill="#fff" stroke="#000" stroke-width="1.3"/>
<text x="-0.04" y="19" font-size="24.8" font-family='"Liberation Sans", sans-serif' font-weight="bold" textLength="18.51" lengthAdjust="spacingAndGlyphs" stroke="#000" stroke-width="0.22">A</text>
<text x="-0.65" y="456.3" font-size="23.9" font-family='"Liberation Sans", sans-serif' font-weight="bold" stroke="#000" stroke-width="0.22">B</text>
<text x="135.91" y="15.6" font-size="20" font-family='"Liberation Serif", serif' textLength="42.81" lengthAdjust="spacingAndGlyphs" stroke="#000" stroke-width="0.22">U266</text>
<text x="285.12" y="15.6" font-size="20" font-family='"Liberation Serif", serif' textLength="40.67" lengthAdjust="spacingAndGlyphs" stroke="#000" stroke-width="0.22">L363</text>
<text x="439.13" y="15.3" font-size="20" font-family='"Liberation Serif", serif' textLength="31.44" lengthAdjust="spacingAndGlyphs" stroke="#000" stroke-width="0.22">LP1</text>
<text x="130.62" y="452.6" font-size="20" font-family='"Liberation Serif", serif' textLength="42.4" lengthAdjust="spacingAndGlyphs" stroke="#000" stroke-width="0.22">U266</text>
<text x="263.33" y="452.9" font-size="20" font-family='"Liberation Serif", serif' textLength="40.05" lengthAdjust="spacingAndGlyphs" stroke="#000" stroke-width="0.22">L363</text>
<text x="396.13" y="452.2" font-size="19.4" font-family='"Liberation Serif", serif' textLength="31.02" lengthAdjust="spacingAndGlyphs" stroke="#000" stroke-width="0.22">LP1</text>
<text x="0.32" y="91.5" font-size="19" font-family='"Liberation Serif", serif' textLength="43.08" lengthAdjust="spacingAndGlyphs" stroke="#000" stroke-width="0.22">Bcl-2</text>
<text x="1.41" y="113" font-size="19" font-family='"Liberation Serif", serif' textLength="36.95" lengthAdjust="spacingAndGlyphs" stroke="#000" stroke-width="0.22">ASO</text>
<text x="0.74" y="238.3" font-size="19" font-family='"Liberation Serif", serif' textLength="45.36" lengthAdjust="spacingAndGlyphs" stroke="#000" stroke-width="0.22">Mcl-1</text>
<text x="1.61" y="260.8" font-size="19" font-family='"Liberation Serif", serif' textLength="36.54" lengthAdjust="spacingAndGlyphs" stroke="#000" stroke-width="0.22">ASO</text>
<text x="0.91" y="519.4" font-size="19" font-family='"Liberation Serif", serif' textLength="43.81" lengthAdjust="spacingAndGlyphs" stroke="#000" stroke-width="0.22">Bcl-2</text>
<text x="1.61" y="541.3" font-size="19" font-family='"Liberation Serif", serif' textLength="37.05" lengthAdjust="spacingAndGlyphs" stroke="#000" stroke-width="0.22">ASO</text>
<text x="1.22" y="646.7" font-size="19" font-family='"Liberation Serif", serif' textLength="42.81" lengthAdjust="spacingAndGlyphs" stroke="#000" stroke-width="0.22">Bcl-x</text>
<text x="44.73" y="655.6" font-size="10.8" font-family='"Liberation Serif", serif' textLength="6.68" lengthAdjust="spacingAndGlyphs" stroke="#000" stroke-width="0.22">L</text>
<text x="1.61" y="676.7" font-size="19" font-family='"Liberation Serif", serif' stroke="#000" stroke-width="0.22">ASO</text>
<text x="1.22" y="788.8" font-size="19" font-family='"Liberation Serif", serif' stroke="#000" stroke-width="0.22">Mcl-1</text>
<text x="1.61" y="811.3" font-size="19" font-family='"Liberation Serif", serif' stroke="#000" stroke-width="0.22">ASO</text>
<text transform="translate(60.1,255.2) rotate(-90)" x="-0.37" y="0" font-size="14.8" font-family='"Liberation Serif", serif' stroke="#000" stroke-width="0.22">No. of viable cells (x1000 cells/mL)</text>
<text transform="translate(70.1,753.9) rotate(-90)" x="-0.46" y="0" font-size="14.8" font-family='"Liberation Serif", serif' textLength="171.37" lengthAdjust="spacingAndGlyphs" stroke="#000" stroke-width="0.22">% of APO 2.7-positive cells</text>
<text x="232.18" y="318.5" font-size="14.2" font-family='"Liberation Serif", serif' textLength="152.08" lengthAdjust="spacingAndGlyphs" stroke="#000" stroke-width="0.22">days after electroporation</text>
<text x="209.58" y="884.4" font-size="14.2" font-family='"Liberation Serif", serif' textLength="150.97" lengthAdjust="spacingAndGlyphs" stroke="#000" stroke-width="0.22">days after electroporation</text>
<line x1="70" y1="333.2" x2="119.2" y2="333.2" stroke="#000" stroke-width="1.2" stroke-dasharray="4.4 6.4"/>
<rect x="92.5" y="328.9" width="8.6" height="8.6" fill="#fff" stroke="#000" stroke-width="1.4"/>
<text x="136.01" y="337.5" font-size="14" font-family='"Liberation Serif", serif' stroke="#000" stroke-width="0.22">control antisense</text>
<line x1="70" y1="350.7" x2="119.2" y2="350.7" stroke="#000" stroke-width="1.2" stroke-dasharray="4.4 6.4"/>
<circle cx="96.8" cy="350.7" r="4.5" fill="#fff" stroke="#000" stroke-width="1.4"/>
<text x="136.01" y="353.8" font-size="14" font-family='"Liberation Serif", serif' stroke="#000" stroke-width="0.22">antisense</text>
<line x1="70" y1="368.8" x2="124.7" y2="368.8" stroke="#000" stroke-width="1.3"/>
<rect x="92.5" y="364.5" width="8.6" height="8.6" fill="#000" stroke="#000" stroke-width="1.4"/>
<text x="136.01" y="374.1" font-size="14" font-family='"Liberation Serif", serif' stroke="#000" stroke-width="0.22">control antisense + Dex</text>
<line x1="70" y1="386.1" x2="124.7" y2="386.1" stroke="#000" stroke-width="1.3"/>
<circle cx="96.8" cy="386.1" r="4.5" fill="#000" stroke="#000" stroke-width="1.4"/>
<text x="136.01" y="391.8" font-size="14" font-family='"Liberation Serif", serif' stroke="#000" stroke-width="0.22">antisense + Dex</text>
<line x1="45.8" y1="895.2" x2="94.6" y2="895.2" stroke="#000" stroke-width="1.2" stroke-dasharray="4.4 6.4"/>
<rect x="68.5" y="891" width="8.4" height="8.4" fill="#fff" stroke="#000" stroke-width="1.4"/>
<text x="111.81" y="899.6" font-size="14" font-family='"Liberation Serif", serif' stroke="#000" stroke-width="0.22">control antisense</text>
<line x1="45.8" y1="913.4" x2="94.6" y2="913.4" stroke="#000" stroke-width="1.2" stroke-dasharray="4.4 6.4"/>
<circle cx="72.7" cy="913.4" r="4.4" fill="#fff" stroke="#000" stroke-width="1.4"/>
<text x="111.81" y="917.7" font-size="14" font-family='"Liberation Serif", serif' stroke="#000" stroke-width="0.22">antisense</text>
<line x1="45.8" y1="931.3" x2="100.1" y2="931.3" stroke="#000" stroke-width="1.3"/>
<rect x="68.5" y="927.1" width="8.4" height="8.4" fill="#000" stroke="#000" stroke-width="1.4"/>
<text x="111.81" y="934.2" font-size="14" font-family='"Liberation Serif", serif' stroke="#000" stroke-width="0.22">control antisense + Dex</text>
<line x1="45.8" y1="949.3" x2="100.1" y2="949.3" stroke="#000" stroke-width="1.3"/>
<circle cx="72.7" cy="949.3" r="4.4" fill="#000" stroke="#000" stroke-width="1.4"/>
<text x="111.81" y="951.8" font-size="14" font-family='"Liberation Serif", serif' stroke="#000" stroke-width="0.22">antisense + Dex</text>
</svg></body></html>
